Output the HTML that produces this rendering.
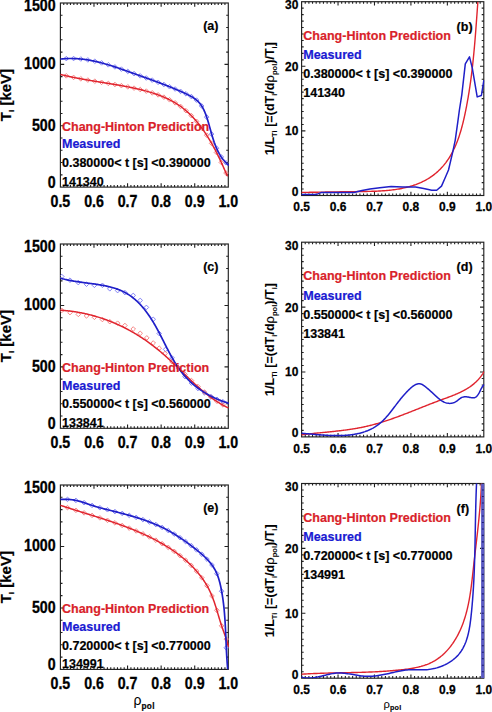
<!DOCTYPE html>
<html><head><meta charset="utf-8"><style>
html,body{margin:0;padding:0;background:#fff;width:492px;height:712px;overflow:hidden;position:relative}
svg text{font-family:"Liberation Sans", sans-serif}
</style></head><body>
<svg width="492" height="712" viewBox="0 0 492 712" style="position:absolute;left:0;top:0" font-family='"Liberation Sans", sans-serif' font-weight="bold">
<rect width="492" height="712" fill="#fff"/>
<rect x="60.4" y="3" width="167.9" height="184.1" fill="none" stroke="#202020" stroke-width="1.15"/>
<path d="M63.76,187.1v-2.1M63.76,3v2.1M67.12,187.1v-2.1M67.12,3v2.1M70.47,187.1v-2.1M70.47,3v2.1M73.83,187.1v-2.1M73.83,3v2.1M77.19,187.1v-2.1M77.19,3v2.1M80.55,187.1v-2.1M80.55,3v2.1M83.91,187.1v-2.1M83.91,3v2.1M87.26,187.1v-2.1M87.26,3v2.1M90.62,187.1v-2.1M90.62,3v2.1M93.98,187.1v-3.8M93.98,3v3.8M97.34,187.1v-2.1M97.34,3v2.1M100.7,187.1v-2.1M100.7,3v2.1M104.05,187.1v-2.1M104.05,3v2.1M107.41,187.1v-2.1M107.41,3v2.1M110.77,187.1v-2.1M110.77,3v2.1M114.13,187.1v-2.1M114.13,3v2.1M117.49,187.1v-2.1M117.49,3v2.1M120.84,187.1v-2.1M120.84,3v2.1M124.2,187.1v-2.1M124.2,3v2.1M127.56,187.1v-3.8M127.56,3v3.8M130.92,187.1v-2.1M130.92,3v2.1M134.28,187.1v-2.1M134.28,3v2.1M137.63,187.1v-2.1M137.63,3v2.1M140.99,187.1v-2.1M140.99,3v2.1M144.35,187.1v-2.1M144.35,3v2.1M147.71,187.1v-2.1M147.71,3v2.1M151.07,187.1v-2.1M151.07,3v2.1M154.42,187.1v-2.1M154.42,3v2.1M157.78,187.1v-2.1M157.78,3v2.1M161.14,187.1v-3.8M161.14,3v3.8M164.5,187.1v-2.1M164.5,3v2.1M167.86,187.1v-2.1M167.86,3v2.1M171.21,187.1v-2.1M171.21,3v2.1M174.57,187.1v-2.1M174.57,3v2.1M177.93,187.1v-2.1M177.93,3v2.1M181.29,187.1v-2.1M181.29,3v2.1M184.65,187.1v-2.1M184.65,3v2.1M188,187.1v-2.1M188,3v2.1M191.36,187.1v-2.1M191.36,3v2.1M194.72,187.1v-3.8M194.72,3v3.8M198.08,187.1v-2.1M198.08,3v2.1M201.44,187.1v-2.1M201.44,3v2.1M204.79,187.1v-2.1M204.79,3v2.1M208.15,187.1v-2.1M208.15,3v2.1M211.51,187.1v-2.1M211.51,3v2.1M214.87,187.1v-2.1M214.87,3v2.1M218.23,187.1v-2.1M218.23,3v2.1M221.58,187.1v-2.1M221.58,3v2.1M224.94,187.1v-2.1M224.94,3v2.1M60.4,174.83h2.1M228.3,174.83h-2.1M60.4,162.55h2.1M228.3,162.55h-2.1M60.4,150.28h2.1M228.3,150.28h-2.1M60.4,138.01h2.1M228.3,138.01h-2.1M60.4,125.73h3.8M228.3,125.73h-3.8M60.4,113.46h2.1M228.3,113.46h-2.1M60.4,101.19h2.1M228.3,101.19h-2.1M60.4,88.91h2.1M228.3,88.91h-2.1M60.4,76.64h2.1M228.3,76.64h-2.1M60.4,64.37h3.8M228.3,64.37h-3.8M60.4,52.09h2.1M228.3,52.09h-2.1M60.4,39.82h2.1M228.3,39.82h-2.1M60.4,27.55h2.1M228.3,27.55h-2.1M60.4,15.27h2.1M228.3,15.27h-2.1" stroke="#202020" stroke-width="1.1" fill="none"/>
<text transform="translate(60.4,206.9) scale(1,1.1)" font-size="14.2" fill="#000" stroke="#000" stroke-width="0.28" text-anchor="middle">0.5</text>
<text transform="translate(93.98,206.9) scale(1,1.1)" font-size="14.2" fill="#000" stroke="#000" stroke-width="0.28" text-anchor="middle">0.6</text>
<text transform="translate(127.56,206.9) scale(1,1.1)" font-size="14.2" fill="#000" stroke="#000" stroke-width="0.28" text-anchor="middle">0.7</text>
<text transform="translate(161.14,206.9) scale(1,1.1)" font-size="14.2" fill="#000" stroke="#000" stroke-width="0.28" text-anchor="middle">0.8</text>
<text transform="translate(194.72,206.9) scale(1,1.1)" font-size="14.2" fill="#000" stroke="#000" stroke-width="0.28" text-anchor="middle">0.9</text>
<text transform="translate(228.3,206.9) scale(1,1.1)" font-size="14.2" fill="#000" stroke="#000" stroke-width="0.28" text-anchor="middle">1.0</text>
<text transform="translate(55.6,11.4) scale(1,1.1)" font-size="14.2" fill="#000" stroke="#000" stroke-width="0.28" text-anchor="end">1500</text>
<text transform="translate(55.6,69.37) scale(1,1.1)" font-size="14.2" fill="#000" stroke="#000" stroke-width="0.28" text-anchor="end">1000</text>
<text transform="translate(55.6,131.13) scale(1,1.1)" font-size="14.2" fill="#000" stroke="#000" stroke-width="0.28" text-anchor="end">500</text>
<text transform="translate(55.6,187.8) scale(1,1.1)" font-size="14.2" fill="#000" stroke="#000" stroke-width="0.28" text-anchor="end">0</text>
<text transform="translate(10.9,95.05) rotate(-90)" font-size="15" stroke="#000" stroke-width="0.2" text-anchor="middle">T<tspan font-size="8" dy="3.2">i</tspan><tspan dy="-3.2"> [keV]</tspan></text>
<text x="203.2" y="29.8" font-size="12.5" fill="#000" stroke="#000" stroke-width="0.2" text-anchor="start">(a)</text>
<rect x="60.4" y="244" width="167.9" height="184.3" fill="none" stroke="#202020" stroke-width="1.15"/>
<path d="M63.76,428.3v-2.1M63.76,244v2.1M67.12,428.3v-2.1M67.12,244v2.1M70.47,428.3v-2.1M70.47,244v2.1M73.83,428.3v-2.1M73.83,244v2.1M77.19,428.3v-2.1M77.19,244v2.1M80.55,428.3v-2.1M80.55,244v2.1M83.91,428.3v-2.1M83.91,244v2.1M87.26,428.3v-2.1M87.26,244v2.1M90.62,428.3v-2.1M90.62,244v2.1M93.98,428.3v-3.8M93.98,244v3.8M97.34,428.3v-2.1M97.34,244v2.1M100.7,428.3v-2.1M100.7,244v2.1M104.05,428.3v-2.1M104.05,244v2.1M107.41,428.3v-2.1M107.41,244v2.1M110.77,428.3v-2.1M110.77,244v2.1M114.13,428.3v-2.1M114.13,244v2.1M117.49,428.3v-2.1M117.49,244v2.1M120.84,428.3v-2.1M120.84,244v2.1M124.2,428.3v-2.1M124.2,244v2.1M127.56,428.3v-3.8M127.56,244v3.8M130.92,428.3v-2.1M130.92,244v2.1M134.28,428.3v-2.1M134.28,244v2.1M137.63,428.3v-2.1M137.63,244v2.1M140.99,428.3v-2.1M140.99,244v2.1M144.35,428.3v-2.1M144.35,244v2.1M147.71,428.3v-2.1M147.71,244v2.1M151.07,428.3v-2.1M151.07,244v2.1M154.42,428.3v-2.1M154.42,244v2.1M157.78,428.3v-2.1M157.78,244v2.1M161.14,428.3v-3.8M161.14,244v3.8M164.5,428.3v-2.1M164.5,244v2.1M167.86,428.3v-2.1M167.86,244v2.1M171.21,428.3v-2.1M171.21,244v2.1M174.57,428.3v-2.1M174.57,244v2.1M177.93,428.3v-2.1M177.93,244v2.1M181.29,428.3v-2.1M181.29,244v2.1M184.65,428.3v-2.1M184.65,244v2.1M188,428.3v-2.1M188,244v2.1M191.36,428.3v-2.1M191.36,244v2.1M194.72,428.3v-3.8M194.72,244v3.8M198.08,428.3v-2.1M198.08,244v2.1M201.44,428.3v-2.1M201.44,244v2.1M204.79,428.3v-2.1M204.79,244v2.1M208.15,428.3v-2.1M208.15,244v2.1M211.51,428.3v-2.1M211.51,244v2.1M214.87,428.3v-2.1M214.87,244v2.1M218.23,428.3v-2.1M218.23,244v2.1M221.58,428.3v-2.1M221.58,244v2.1M224.94,428.3v-2.1M224.94,244v2.1M60.4,416.01h2.1M228.3,416.01h-2.1M60.4,403.73h2.1M228.3,403.73h-2.1M60.4,391.44h2.1M228.3,391.44h-2.1M60.4,379.15h2.1M228.3,379.15h-2.1M60.4,366.87h3.8M228.3,366.87h-3.8M60.4,354.58h2.1M228.3,354.58h-2.1M60.4,342.29h2.1M228.3,342.29h-2.1M60.4,330.01h2.1M228.3,330.01h-2.1M60.4,317.72h2.1M228.3,317.72h-2.1M60.4,305.43h3.8M228.3,305.43h-3.8M60.4,293.15h2.1M228.3,293.15h-2.1M60.4,280.86h2.1M228.3,280.86h-2.1M60.4,268.57h2.1M228.3,268.57h-2.1M60.4,256.29h2.1M228.3,256.29h-2.1" stroke="#202020" stroke-width="1.1" fill="none"/>
<text transform="translate(60.4,448.1) scale(1,1.1)" font-size="14.2" fill="#000" stroke="#000" stroke-width="0.28" text-anchor="middle">0.5</text>
<text transform="translate(93.98,448.1) scale(1,1.1)" font-size="14.2" fill="#000" stroke="#000" stroke-width="0.28" text-anchor="middle">0.6</text>
<text transform="translate(127.56,448.1) scale(1,1.1)" font-size="14.2" fill="#000" stroke="#000" stroke-width="0.28" text-anchor="middle">0.7</text>
<text transform="translate(161.14,448.1) scale(1,1.1)" font-size="14.2" fill="#000" stroke="#000" stroke-width="0.28" text-anchor="middle">0.8</text>
<text transform="translate(194.72,448.1) scale(1,1.1)" font-size="14.2" fill="#000" stroke="#000" stroke-width="0.28" text-anchor="middle">0.9</text>
<text transform="translate(228.3,448.1) scale(1,1.1)" font-size="14.2" fill="#000" stroke="#000" stroke-width="0.28" text-anchor="middle">1.0</text>
<text transform="translate(55.6,252.4) scale(1,1.1)" font-size="14.2" fill="#000" stroke="#000" stroke-width="0.28" text-anchor="end">1500</text>
<text transform="translate(55.6,310.43) scale(1,1.1)" font-size="14.2" fill="#000" stroke="#000" stroke-width="0.28" text-anchor="end">1000</text>
<text transform="translate(55.6,372.27) scale(1,1.1)" font-size="14.2" fill="#000" stroke="#000" stroke-width="0.28" text-anchor="end">500</text>
<text transform="translate(55.6,429) scale(1,1.1)" font-size="14.2" fill="#000" stroke="#000" stroke-width="0.28" text-anchor="end">0</text>
<text transform="translate(10.9,336.15) rotate(-90)" font-size="15" stroke="#000" stroke-width="0.2" text-anchor="middle">T<tspan font-size="8" dy="3.2">i</tspan><tspan dy="-3.2"> [keV]</tspan></text>
<text x="203.2" y="270.8" font-size="12.5" fill="#000" stroke="#000" stroke-width="0.2" text-anchor="start">(c)</text>
<rect x="60.4" y="485" width="167.9" height="184.4" fill="none" stroke="#202020" stroke-width="1.15"/>
<path d="M63.76,669.4v-2.1M63.76,485v2.1M67.12,669.4v-2.1M67.12,485v2.1M70.47,669.4v-2.1M70.47,485v2.1M73.83,669.4v-2.1M73.83,485v2.1M77.19,669.4v-2.1M77.19,485v2.1M80.55,669.4v-2.1M80.55,485v2.1M83.91,669.4v-2.1M83.91,485v2.1M87.26,669.4v-2.1M87.26,485v2.1M90.62,669.4v-2.1M90.62,485v2.1M93.98,669.4v-3.8M93.98,485v3.8M97.34,669.4v-2.1M97.34,485v2.1M100.7,669.4v-2.1M100.7,485v2.1M104.05,669.4v-2.1M104.05,485v2.1M107.41,669.4v-2.1M107.41,485v2.1M110.77,669.4v-2.1M110.77,485v2.1M114.13,669.4v-2.1M114.13,485v2.1M117.49,669.4v-2.1M117.49,485v2.1M120.84,669.4v-2.1M120.84,485v2.1M124.2,669.4v-2.1M124.2,485v2.1M127.56,669.4v-3.8M127.56,485v3.8M130.92,669.4v-2.1M130.92,485v2.1M134.28,669.4v-2.1M134.28,485v2.1M137.63,669.4v-2.1M137.63,485v2.1M140.99,669.4v-2.1M140.99,485v2.1M144.35,669.4v-2.1M144.35,485v2.1M147.71,669.4v-2.1M147.71,485v2.1M151.07,669.4v-2.1M151.07,485v2.1M154.42,669.4v-2.1M154.42,485v2.1M157.78,669.4v-2.1M157.78,485v2.1M161.14,669.4v-3.8M161.14,485v3.8M164.5,669.4v-2.1M164.5,485v2.1M167.86,669.4v-2.1M167.86,485v2.1M171.21,669.4v-2.1M171.21,485v2.1M174.57,669.4v-2.1M174.57,485v2.1M177.93,669.4v-2.1M177.93,485v2.1M181.29,669.4v-2.1M181.29,485v2.1M184.65,669.4v-2.1M184.65,485v2.1M188,669.4v-2.1M188,485v2.1M191.36,669.4v-2.1M191.36,485v2.1M194.72,669.4v-3.8M194.72,485v3.8M198.08,669.4v-2.1M198.08,485v2.1M201.44,669.4v-2.1M201.44,485v2.1M204.79,669.4v-2.1M204.79,485v2.1M208.15,669.4v-2.1M208.15,485v2.1M211.51,669.4v-2.1M211.51,485v2.1M214.87,669.4v-2.1M214.87,485v2.1M218.23,669.4v-2.1M218.23,485v2.1M221.58,669.4v-2.1M221.58,485v2.1M224.94,669.4v-2.1M224.94,485v2.1M60.4,657.11h2.1M228.3,657.11h-2.1M60.4,644.81h2.1M228.3,644.81h-2.1M60.4,632.52h2.1M228.3,632.52h-2.1M60.4,620.23h2.1M228.3,620.23h-2.1M60.4,607.93h3.8M228.3,607.93h-3.8M60.4,595.64h2.1M228.3,595.64h-2.1M60.4,583.35h2.1M228.3,583.35h-2.1M60.4,571.05h2.1M228.3,571.05h-2.1M60.4,558.76h2.1M228.3,558.76h-2.1M60.4,546.47h3.8M228.3,546.47h-3.8M60.4,534.17h2.1M228.3,534.17h-2.1M60.4,521.88h2.1M228.3,521.88h-2.1M60.4,509.59h2.1M228.3,509.59h-2.1M60.4,497.29h2.1M228.3,497.29h-2.1" stroke="#202020" stroke-width="1.1" fill="none"/>
<text transform="translate(60.4,689.2) scale(1,1.1)" font-size="14.2" fill="#000" stroke="#000" stroke-width="0.28" text-anchor="middle">0.5</text>
<text transform="translate(93.98,689.2) scale(1,1.1)" font-size="14.2" fill="#000" stroke="#000" stroke-width="0.28" text-anchor="middle">0.6</text>
<text transform="translate(127.56,689.2) scale(1,1.1)" font-size="14.2" fill="#000" stroke="#000" stroke-width="0.28" text-anchor="middle">0.7</text>
<text transform="translate(161.14,689.2) scale(1,1.1)" font-size="14.2" fill="#000" stroke="#000" stroke-width="0.28" text-anchor="middle">0.8</text>
<text transform="translate(194.72,689.2) scale(1,1.1)" font-size="14.2" fill="#000" stroke="#000" stroke-width="0.28" text-anchor="middle">0.9</text>
<text transform="translate(228.3,689.2) scale(1,1.1)" font-size="14.2" fill="#000" stroke="#000" stroke-width="0.28" text-anchor="middle">1.0</text>
<text transform="translate(55.6,493.4) scale(1,1.1)" font-size="14.2" fill="#000" stroke="#000" stroke-width="0.28" text-anchor="end">1500</text>
<text transform="translate(55.6,551.47) scale(1,1.1)" font-size="14.2" fill="#000" stroke="#000" stroke-width="0.28" text-anchor="end">1000</text>
<text transform="translate(55.6,613.33) scale(1,1.1)" font-size="14.2" fill="#000" stroke="#000" stroke-width="0.28" text-anchor="end">500</text>
<text transform="translate(55.6,670.1) scale(1,1.1)" font-size="14.2" fill="#000" stroke="#000" stroke-width="0.28" text-anchor="end">0</text>
<text transform="translate(10.9,577.2) rotate(-90)" font-size="15" stroke="#000" stroke-width="0.2" text-anchor="middle">T<tspan font-size="8" dy="3.2">i</tspan><tspan dy="-3.2"> [keV]</tspan></text>
<text x="203.2" y="511.8" font-size="12.5" fill="#000" stroke="#000" stroke-width="0.2" text-anchor="start">(e)</text>
<rect x="301.6" y="1.7" width="182.2" height="193.8" fill="none" stroke="#202020" stroke-width="1.15"/>
<path d="M305.24,195.5v-2.1M305.24,1.7v2.1M308.89,195.5v-2.1M308.89,1.7v2.1M312.53,195.5v-2.1M312.53,1.7v2.1M316.18,195.5v-2.1M316.18,1.7v2.1M319.82,195.5v-2.1M319.82,1.7v2.1M323.46,195.5v-2.1M323.46,1.7v2.1M327.11,195.5v-2.1M327.11,1.7v2.1M330.75,195.5v-2.1M330.75,1.7v2.1M334.4,195.5v-2.1M334.4,1.7v2.1M338.04,195.5v-3.8M338.04,1.7v3.8M341.68,195.5v-2.1M341.68,1.7v2.1M345.33,195.5v-2.1M345.33,1.7v2.1M348.97,195.5v-2.1M348.97,1.7v2.1M352.62,195.5v-2.1M352.62,1.7v2.1M356.26,195.5v-2.1M356.26,1.7v2.1M359.9,195.5v-2.1M359.9,1.7v2.1M363.55,195.5v-2.1M363.55,1.7v2.1M367.19,195.5v-2.1M367.19,1.7v2.1M370.84,195.5v-2.1M370.84,1.7v2.1M374.48,195.5v-3.8M374.48,1.7v3.8M378.12,195.5v-2.1M378.12,1.7v2.1M381.77,195.5v-2.1M381.77,1.7v2.1M385.41,195.5v-2.1M385.41,1.7v2.1M389.06,195.5v-2.1M389.06,1.7v2.1M392.7,195.5v-2.1M392.7,1.7v2.1M396.34,195.5v-2.1M396.34,1.7v2.1M399.99,195.5v-2.1M399.99,1.7v2.1M403.63,195.5v-2.1M403.63,1.7v2.1M407.28,195.5v-2.1M407.28,1.7v2.1M410.92,195.5v-3.8M410.92,1.7v3.8M414.56,195.5v-2.1M414.56,1.7v2.1M418.21,195.5v-2.1M418.21,1.7v2.1M421.85,195.5v-2.1M421.85,1.7v2.1M425.5,195.5v-2.1M425.5,1.7v2.1M429.14,195.5v-2.1M429.14,1.7v2.1M432.78,195.5v-2.1M432.78,1.7v2.1M436.43,195.5v-2.1M436.43,1.7v2.1M440.07,195.5v-2.1M440.07,1.7v2.1M443.72,195.5v-2.1M443.72,1.7v2.1M447.36,195.5v-3.8M447.36,1.7v3.8M451,195.5v-2.1M451,1.7v2.1M454.65,195.5v-2.1M454.65,1.7v2.1M458.29,195.5v-2.1M458.29,1.7v2.1M461.94,195.5v-2.1M461.94,1.7v2.1M465.58,195.5v-2.1M465.58,1.7v2.1M469.22,195.5v-2.1M469.22,1.7v2.1M472.87,195.5v-2.1M472.87,1.7v2.1M476.51,195.5v-2.1M476.51,1.7v2.1M480.16,195.5v-2.1M480.16,1.7v2.1M301.6,189.04h2.1M483.8,189.04h-2.1M301.6,182.58h2.1M483.8,182.58h-2.1M301.6,176.12h2.1M483.8,176.12h-2.1M301.6,169.66h2.1M483.8,169.66h-2.1M301.6,163.2h2.1M483.8,163.2h-2.1M301.6,156.74h2.1M483.8,156.74h-2.1M301.6,150.28h2.1M483.8,150.28h-2.1M301.6,143.82h2.1M483.8,143.82h-2.1M301.6,137.36h2.1M483.8,137.36h-2.1M301.6,130.9h3.8M483.8,130.9h-3.8M301.6,124.44h2.1M483.8,124.44h-2.1M301.6,117.98h2.1M483.8,117.98h-2.1M301.6,111.52h2.1M483.8,111.52h-2.1M301.6,105.06h2.1M483.8,105.06h-2.1M301.6,98.6h2.1M483.8,98.6h-2.1M301.6,92.14h2.1M483.8,92.14h-2.1M301.6,85.68h2.1M483.8,85.68h-2.1M301.6,79.22h2.1M483.8,79.22h-2.1M301.6,72.76h2.1M483.8,72.76h-2.1M301.6,66.3h3.8M483.8,66.3h-3.8M301.6,59.84h2.1M483.8,59.84h-2.1M301.6,53.38h2.1M483.8,53.38h-2.1M301.6,46.92h2.1M483.8,46.92h-2.1M301.6,40.46h2.1M483.8,40.46h-2.1M301.6,34h2.1M483.8,34h-2.1M301.6,27.54h2.1M483.8,27.54h-2.1M301.6,21.08h2.1M483.8,21.08h-2.1M301.6,14.62h2.1M483.8,14.62h-2.1M301.6,8.16h2.1M483.8,8.16h-2.1" stroke="#202020" stroke-width="1.1" fill="none"/>
<text transform="translate(301.6,211.3) scale(1,1.04)" font-size="12" fill="#000" stroke="#000" stroke-width="0.25" text-anchor="middle">0.5</text>
<text transform="translate(338.04,211.3) scale(1,1.04)" font-size="12" fill="#000" stroke="#000" stroke-width="0.25" text-anchor="middle">0.6</text>
<text transform="translate(374.48,211.3) scale(1,1.04)" font-size="12" fill="#000" stroke="#000" stroke-width="0.25" text-anchor="middle">0.7</text>
<text transform="translate(410.92,211.3) scale(1,1.04)" font-size="12" fill="#000" stroke="#000" stroke-width="0.25" text-anchor="middle">0.8</text>
<text transform="translate(447.36,211.3) scale(1,1.04)" font-size="12" fill="#000" stroke="#000" stroke-width="0.25" text-anchor="middle">0.9</text>
<text transform="translate(483.8,211.3) scale(1,1.04)" font-size="12" fill="#000" stroke="#000" stroke-width="0.25" text-anchor="middle">1.0</text>
<text transform="translate(298.4,9.2) scale(1,1.04)" font-size="12" fill="#000" stroke="#000" stroke-width="0.25" text-anchor="end">30</text>
<text transform="translate(298.4,70.7) scale(1,1.04)" font-size="12" fill="#000" stroke="#000" stroke-width="0.25" text-anchor="end">20</text>
<text transform="translate(298.4,135.3) scale(1,1.04)" font-size="12" fill="#000" stroke="#000" stroke-width="0.25" text-anchor="end">10</text>
<text transform="translate(298.4,195.9) scale(1,1.04)" font-size="12" fill="#000" stroke="#000" stroke-width="0.25" text-anchor="end">0</text>
<text transform="translate(273.8,98.6) rotate(-90)" font-size="12.6" stroke="#000" stroke-width="0.05" text-anchor="middle">1/L<tspan font-size="7.5" dy="3">Ti</tspan><tspan dy="-3"> [=(dT</tspan><tspan font-size="7.5" dy="3">i</tspan><tspan dy="-3">/d</tspan><tspan font-weight="normal" stroke-width="0.1" font-size="13">&#961;</tspan><tspan font-size="7.5" dy="3">pol</tspan><tspan dy="-3">)/T</tspan><tspan font-size="7.5" dy="3">i</tspan><tspan dy="-3">]</tspan></text>
<text x="456.6" y="30.7" font-size="12.5" fill="#000" stroke="#000" stroke-width="0.2" text-anchor="start">(b)</text>
<rect x="301.6" y="242.2" width="182.2" height="194.7" fill="none" stroke="#202020" stroke-width="1.15"/>
<path d="M305.24,436.9v-2.1M305.24,242.2v2.1M308.89,436.9v-2.1M308.89,242.2v2.1M312.53,436.9v-2.1M312.53,242.2v2.1M316.18,436.9v-2.1M316.18,242.2v2.1M319.82,436.9v-2.1M319.82,242.2v2.1M323.46,436.9v-2.1M323.46,242.2v2.1M327.11,436.9v-2.1M327.11,242.2v2.1M330.75,436.9v-2.1M330.75,242.2v2.1M334.4,436.9v-2.1M334.4,242.2v2.1M338.04,436.9v-3.8M338.04,242.2v3.8M341.68,436.9v-2.1M341.68,242.2v2.1M345.33,436.9v-2.1M345.33,242.2v2.1M348.97,436.9v-2.1M348.97,242.2v2.1M352.62,436.9v-2.1M352.62,242.2v2.1M356.26,436.9v-2.1M356.26,242.2v2.1M359.9,436.9v-2.1M359.9,242.2v2.1M363.55,436.9v-2.1M363.55,242.2v2.1M367.19,436.9v-2.1M367.19,242.2v2.1M370.84,436.9v-2.1M370.84,242.2v2.1M374.48,436.9v-3.8M374.48,242.2v3.8M378.12,436.9v-2.1M378.12,242.2v2.1M381.77,436.9v-2.1M381.77,242.2v2.1M385.41,436.9v-2.1M385.41,242.2v2.1M389.06,436.9v-2.1M389.06,242.2v2.1M392.7,436.9v-2.1M392.7,242.2v2.1M396.34,436.9v-2.1M396.34,242.2v2.1M399.99,436.9v-2.1M399.99,242.2v2.1M403.63,436.9v-2.1M403.63,242.2v2.1M407.28,436.9v-2.1M407.28,242.2v2.1M410.92,436.9v-3.8M410.92,242.2v3.8M414.56,436.9v-2.1M414.56,242.2v2.1M418.21,436.9v-2.1M418.21,242.2v2.1M421.85,436.9v-2.1M421.85,242.2v2.1M425.5,436.9v-2.1M425.5,242.2v2.1M429.14,436.9v-2.1M429.14,242.2v2.1M432.78,436.9v-2.1M432.78,242.2v2.1M436.43,436.9v-2.1M436.43,242.2v2.1M440.07,436.9v-2.1M440.07,242.2v2.1M443.72,436.9v-2.1M443.72,242.2v2.1M447.36,436.9v-3.8M447.36,242.2v3.8M451,436.9v-2.1M451,242.2v2.1M454.65,436.9v-2.1M454.65,242.2v2.1M458.29,436.9v-2.1M458.29,242.2v2.1M461.94,436.9v-2.1M461.94,242.2v2.1M465.58,436.9v-2.1M465.58,242.2v2.1M469.22,436.9v-2.1M469.22,242.2v2.1M472.87,436.9v-2.1M472.87,242.2v2.1M476.51,436.9v-2.1M476.51,242.2v2.1M480.16,436.9v-2.1M480.16,242.2v2.1M301.6,430.41h2.1M483.8,430.41h-2.1M301.6,423.92h2.1M483.8,423.92h-2.1M301.6,417.43h2.1M483.8,417.43h-2.1M301.6,410.94h2.1M483.8,410.94h-2.1M301.6,404.45h2.1M483.8,404.45h-2.1M301.6,397.96h2.1M483.8,397.96h-2.1M301.6,391.47h2.1M483.8,391.47h-2.1M301.6,384.98h2.1M483.8,384.98h-2.1M301.6,378.49h2.1M483.8,378.49h-2.1M301.6,372h3.8M483.8,372h-3.8M301.6,365.51h2.1M483.8,365.51h-2.1M301.6,359.02h2.1M483.8,359.02h-2.1M301.6,352.53h2.1M483.8,352.53h-2.1M301.6,346.04h2.1M483.8,346.04h-2.1M301.6,339.55h2.1M483.8,339.55h-2.1M301.6,333.06h2.1M483.8,333.06h-2.1M301.6,326.57h2.1M483.8,326.57h-2.1M301.6,320.08h2.1M483.8,320.08h-2.1M301.6,313.59h2.1M483.8,313.59h-2.1M301.6,307.1h3.8M483.8,307.1h-3.8M301.6,300.61h2.1M483.8,300.61h-2.1M301.6,294.12h2.1M483.8,294.12h-2.1M301.6,287.63h2.1M483.8,287.63h-2.1M301.6,281.14h2.1M483.8,281.14h-2.1M301.6,274.65h2.1M483.8,274.65h-2.1M301.6,268.16h2.1M483.8,268.16h-2.1M301.6,261.67h2.1M483.8,261.67h-2.1M301.6,255.18h2.1M483.8,255.18h-2.1M301.6,248.69h2.1M483.8,248.69h-2.1" stroke="#202020" stroke-width="1.1" fill="none"/>
<text transform="translate(301.6,452.7) scale(1,1.04)" font-size="12" fill="#000" stroke="#000" stroke-width="0.25" text-anchor="middle">0.5</text>
<text transform="translate(338.04,452.7) scale(1,1.04)" font-size="12" fill="#000" stroke="#000" stroke-width="0.25" text-anchor="middle">0.6</text>
<text transform="translate(374.48,452.7) scale(1,1.04)" font-size="12" fill="#000" stroke="#000" stroke-width="0.25" text-anchor="middle">0.7</text>
<text transform="translate(410.92,452.7) scale(1,1.04)" font-size="12" fill="#000" stroke="#000" stroke-width="0.25" text-anchor="middle">0.8</text>
<text transform="translate(447.36,452.7) scale(1,1.04)" font-size="12" fill="#000" stroke="#000" stroke-width="0.25" text-anchor="middle">0.9</text>
<text transform="translate(483.8,452.7) scale(1,1.04)" font-size="12" fill="#000" stroke="#000" stroke-width="0.25" text-anchor="middle">1.0</text>
<text transform="translate(298.4,249.7) scale(1,1.04)" font-size="12" fill="#000" stroke="#000" stroke-width="0.25" text-anchor="end">30</text>
<text transform="translate(298.4,311.5) scale(1,1.04)" font-size="12" fill="#000" stroke="#000" stroke-width="0.25" text-anchor="end">20</text>
<text transform="translate(298.4,376.4) scale(1,1.04)" font-size="12" fill="#000" stroke="#000" stroke-width="0.25" text-anchor="end">10</text>
<text transform="translate(298.4,437.3) scale(1,1.04)" font-size="12" fill="#000" stroke="#000" stroke-width="0.25" text-anchor="end">0</text>
<text transform="translate(273.8,339.55) rotate(-90)" font-size="12.6" stroke="#000" stroke-width="0.05" text-anchor="middle">1/L<tspan font-size="7.5" dy="3">Ti</tspan><tspan dy="-3"> [=(dT</tspan><tspan font-size="7.5" dy="3">i</tspan><tspan dy="-3">/d</tspan><tspan font-weight="normal" stroke-width="0.1" font-size="13">&#961;</tspan><tspan font-size="7.5" dy="3">pol</tspan><tspan dy="-3">)/T</tspan><tspan font-size="7.5" dy="3">i</tspan><tspan dy="-3">]</tspan></text>
<text x="456.6" y="271.2" font-size="12.5" fill="#000" stroke="#000" stroke-width="0.2" text-anchor="start">(d)</text>
<rect x="301.6" y="483.5" width="182.2" height="194.7" fill="none" stroke="#202020" stroke-width="1.15"/>
<path d="M305.24,678.2v-2.1M305.24,483.5v2.1M308.89,678.2v-2.1M308.89,483.5v2.1M312.53,678.2v-2.1M312.53,483.5v2.1M316.18,678.2v-2.1M316.18,483.5v2.1M319.82,678.2v-2.1M319.82,483.5v2.1M323.46,678.2v-2.1M323.46,483.5v2.1M327.11,678.2v-2.1M327.11,483.5v2.1M330.75,678.2v-2.1M330.75,483.5v2.1M334.4,678.2v-2.1M334.4,483.5v2.1M338.04,678.2v-3.8M338.04,483.5v3.8M341.68,678.2v-2.1M341.68,483.5v2.1M345.33,678.2v-2.1M345.33,483.5v2.1M348.97,678.2v-2.1M348.97,483.5v2.1M352.62,678.2v-2.1M352.62,483.5v2.1M356.26,678.2v-2.1M356.26,483.5v2.1M359.9,678.2v-2.1M359.9,483.5v2.1M363.55,678.2v-2.1M363.55,483.5v2.1M367.19,678.2v-2.1M367.19,483.5v2.1M370.84,678.2v-2.1M370.84,483.5v2.1M374.48,678.2v-3.8M374.48,483.5v3.8M378.12,678.2v-2.1M378.12,483.5v2.1M381.77,678.2v-2.1M381.77,483.5v2.1M385.41,678.2v-2.1M385.41,483.5v2.1M389.06,678.2v-2.1M389.06,483.5v2.1M392.7,678.2v-2.1M392.7,483.5v2.1M396.34,678.2v-2.1M396.34,483.5v2.1M399.99,678.2v-2.1M399.99,483.5v2.1M403.63,678.2v-2.1M403.63,483.5v2.1M407.28,678.2v-2.1M407.28,483.5v2.1M410.92,678.2v-3.8M410.92,483.5v3.8M414.56,678.2v-2.1M414.56,483.5v2.1M418.21,678.2v-2.1M418.21,483.5v2.1M421.85,678.2v-2.1M421.85,483.5v2.1M425.5,678.2v-2.1M425.5,483.5v2.1M429.14,678.2v-2.1M429.14,483.5v2.1M432.78,678.2v-2.1M432.78,483.5v2.1M436.43,678.2v-2.1M436.43,483.5v2.1M440.07,678.2v-2.1M440.07,483.5v2.1M443.72,678.2v-2.1M443.72,483.5v2.1M447.36,678.2v-3.8M447.36,483.5v3.8M451,678.2v-2.1M451,483.5v2.1M454.65,678.2v-2.1M454.65,483.5v2.1M458.29,678.2v-2.1M458.29,483.5v2.1M461.94,678.2v-2.1M461.94,483.5v2.1M465.58,678.2v-2.1M465.58,483.5v2.1M469.22,678.2v-2.1M469.22,483.5v2.1M472.87,678.2v-2.1M472.87,483.5v2.1M476.51,678.2v-2.1M476.51,483.5v2.1M480.16,678.2v-2.1M480.16,483.5v2.1M301.6,671.71h2.1M483.8,671.71h-2.1M301.6,665.22h2.1M483.8,665.22h-2.1M301.6,658.73h2.1M483.8,658.73h-2.1M301.6,652.24h2.1M483.8,652.24h-2.1M301.6,645.75h2.1M483.8,645.75h-2.1M301.6,639.26h2.1M483.8,639.26h-2.1M301.6,632.77h2.1M483.8,632.77h-2.1M301.6,626.28h2.1M483.8,626.28h-2.1M301.6,619.79h2.1M483.8,619.79h-2.1M301.6,613.3h3.8M483.8,613.3h-3.8M301.6,606.81h2.1M483.8,606.81h-2.1M301.6,600.32h2.1M483.8,600.32h-2.1M301.6,593.83h2.1M483.8,593.83h-2.1M301.6,587.34h2.1M483.8,587.34h-2.1M301.6,580.85h2.1M483.8,580.85h-2.1M301.6,574.36h2.1M483.8,574.36h-2.1M301.6,567.87h2.1M483.8,567.87h-2.1M301.6,561.38h2.1M483.8,561.38h-2.1M301.6,554.89h2.1M483.8,554.89h-2.1M301.6,548.4h3.8M483.8,548.4h-3.8M301.6,541.91h2.1M483.8,541.91h-2.1M301.6,535.42h2.1M483.8,535.42h-2.1M301.6,528.93h2.1M483.8,528.93h-2.1M301.6,522.44h2.1M483.8,522.44h-2.1M301.6,515.95h2.1M483.8,515.95h-2.1M301.6,509.46h2.1M483.8,509.46h-2.1M301.6,502.97h2.1M483.8,502.97h-2.1M301.6,496.48h2.1M483.8,496.48h-2.1M301.6,489.99h2.1M483.8,489.99h-2.1" stroke="#202020" stroke-width="1.1" fill="none"/>
<text transform="translate(301.6,694) scale(1,1.04)" font-size="12" fill="#000" stroke="#000" stroke-width="0.25" text-anchor="middle">0.5</text>
<text transform="translate(338.04,694) scale(1,1.04)" font-size="12" fill="#000" stroke="#000" stroke-width="0.25" text-anchor="middle">0.6</text>
<text transform="translate(374.48,694) scale(1,1.04)" font-size="12" fill="#000" stroke="#000" stroke-width="0.25" text-anchor="middle">0.7</text>
<text transform="translate(410.92,694) scale(1,1.04)" font-size="12" fill="#000" stroke="#000" stroke-width="0.25" text-anchor="middle">0.8</text>
<text transform="translate(447.36,694) scale(1,1.04)" font-size="12" fill="#000" stroke="#000" stroke-width="0.25" text-anchor="middle">0.9</text>
<text transform="translate(483.8,694) scale(1,1.04)" font-size="12" fill="#000" stroke="#000" stroke-width="0.25" text-anchor="middle">1.0</text>
<text transform="translate(298.4,491) scale(1,1.04)" font-size="12" fill="#000" stroke="#000" stroke-width="0.25" text-anchor="end">30</text>
<text transform="translate(298.4,552.8) scale(1,1.04)" font-size="12" fill="#000" stroke="#000" stroke-width="0.25" text-anchor="end">20</text>
<text transform="translate(298.4,617.7) scale(1,1.04)" font-size="12" fill="#000" stroke="#000" stroke-width="0.25" text-anchor="end">10</text>
<text transform="translate(298.4,678.6) scale(1,1.04)" font-size="12" fill="#000" stroke="#000" stroke-width="0.25" text-anchor="end">0</text>
<text transform="translate(273.8,580.85) rotate(-90)" font-size="12.6" stroke="#000" stroke-width="0.05" text-anchor="middle">1/L<tspan font-size="7.5" dy="3">Ti</tspan><tspan dy="-3"> [=(dT</tspan><tspan font-size="7.5" dy="3">i</tspan><tspan dy="-3">/d</tspan><tspan font-weight="normal" stroke-width="0.1" font-size="13">&#961;</tspan><tspan font-size="7.5" dy="3">pol</tspan><tspan dy="-3">)/T</tspan><tspan font-size="7.5" dy="3">i</tspan><tspan dy="-3">]</tspan></text>
<text x="456.6" y="512.5" font-size="12.5" fill="#000" stroke="#000" stroke-width="0.2" text-anchor="start">(f)</text>
<defs>
<clipPath id="cl0"><rect x="60.4" y="3" width="168.5" height="184.1"/></clipPath>
<clipPath id="cl1"><rect x="60.4" y="244" width="168.5" height="184.3"/></clipPath>
<clipPath id="cl2"><rect x="60.4" y="485" width="168.5" height="184.4"/></clipPath>
<clipPath id="cr0"><rect x="301.6" y="1.7" width="182.8" height="193.8"/></clipPath>
<clipPath id="cr1"><rect x="301.6" y="242.2" width="182.8" height="194.7"/></clipPath>
<clipPath id="cr2"><rect x="301.6" y="483.5" width="182.8" height="194.7"/></clipPath>
</defs>
<g clip-path="url(#cl0)">
<path d="M64,58.6l2.3,-2.3l2.3,2.3l-2.3,2.3zM71.3,58.53l2.3,-2.3l2.3,2.3l-2.3,2.3zM78.48,58.99l2.3,-2.3l2.3,2.3l-2.3,2.3zM85.54,59.92l2.3,-2.3l2.3,2.3l-2.3,2.3zM92.48,61.24l2.3,-2.3l2.3,2.3l-2.3,2.3zM99.3,62.9l2.3,-2.3l2.3,2.3l-2.3,2.3zM106.01,64.81l2.3,-2.3l2.3,2.3l-2.3,2.3zM112.61,66.91l2.3,-2.3l2.3,2.3l-2.3,2.3zM119.1,69.12l2.3,-2.3l2.3,2.3l-2.3,2.3zM125.48,71.38l2.3,-2.3l2.3,2.3l-2.3,2.3zM131.75,73.62l2.3,-2.3l2.3,2.3l-2.3,2.3zM137.92,75.82l2.3,-2.3l2.3,2.3l-2.3,2.3zM143.99,77.99l2.3,-2.3l2.3,2.3l-2.3,2.3zM149.95,80.15l2.3,-2.3l2.3,2.3l-2.3,2.3zM155.82,82.31l2.3,-2.3l2.3,2.3l-2.3,2.3zM161.58,84.5l2.3,-2.3l2.3,2.3l-2.3,2.3zM167.25,86.73l2.3,-2.3l2.3,2.3l-2.3,2.3zM172.83,89.01l2.3,-2.3l2.3,2.3l-2.3,2.3zM178.31,91.36l2.3,-2.3l2.3,2.3l-2.3,2.3zM183.7,93.8l2.3,-2.3l2.3,2.3l-2.3,2.3zM189,96.53l2.3,-2.3l2.3,2.3l-2.3,2.3zM194.22,100.1l2.3,-2.3l2.3,2.3l-2.3,2.3zM199.34,105.94l2.3,-2.3l2.3,2.3l-2.3,2.3zM204.38,117.07l2.3,-2.3l2.3,2.3l-2.3,2.3zM209.34,134.09l2.3,-2.3l2.3,2.3l-2.3,2.3zM214.21,148.17l2.3,-2.3l2.3,2.3l-2.3,2.3zM219,156.95l2.3,-2.3l2.3,2.3l-2.3,2.3zM223.72,162.78l2.3,-2.3l2.3,2.3l-2.3,2.3z" stroke="#7878f4" stroke-width="0.9" fill="none"/>
<path d="M64,75.85l2.3,-2.3l2.3,2.3l-2.3,2.3zM71.3,77.42l2.3,-2.3l2.3,2.3l-2.3,2.3zM78.48,78.8l2.3,-2.3l2.3,2.3l-2.3,2.3zM85.54,80.05l2.3,-2.3l2.3,2.3l-2.3,2.3zM92.48,81.21l2.3,-2.3l2.3,2.3l-2.3,2.3zM99.3,82.32l2.3,-2.3l2.3,2.3l-2.3,2.3zM106.01,83.41l2.3,-2.3l2.3,2.3l-2.3,2.3zM112.61,84.51l2.3,-2.3l2.3,2.3l-2.3,2.3zM119.1,85.64l2.3,-2.3l2.3,2.3l-2.3,2.3zM125.48,86.84l2.3,-2.3l2.3,2.3l-2.3,2.3zM131.75,88.13l2.3,-2.3l2.3,2.3l-2.3,2.3zM137.92,89.53l2.3,-2.3l2.3,2.3l-2.3,2.3zM143.99,91.1l2.3,-2.3l2.3,2.3l-2.3,2.3zM149.95,92.86l2.3,-2.3l2.3,2.3l-2.3,2.3zM155.82,94.86l2.3,-2.3l2.3,2.3l-2.3,2.3zM161.58,97.15l2.3,-2.3l2.3,2.3l-2.3,2.3zM167.25,99.78l2.3,-2.3l2.3,2.3l-2.3,2.3zM172.83,102.84l2.3,-2.3l2.3,2.3l-2.3,2.3zM178.31,106.44l2.3,-2.3l2.3,2.3l-2.3,2.3zM183.7,110.68l2.3,-2.3l2.3,2.3l-2.3,2.3zM189,115.63l2.3,-2.3l2.3,2.3l-2.3,2.3zM194.22,121.33l2.3,-2.3l2.3,2.3l-2.3,2.3zM199.34,127.83l2.3,-2.3l2.3,2.3l-2.3,2.3zM204.38,135.17l2.3,-2.3l2.3,2.3l-2.3,2.3zM209.34,143.39l2.3,-2.3l2.3,2.3l-2.3,2.3zM214.21,152.49l2.3,-2.3l2.3,2.3l-2.3,2.3zM219,162.42l2.3,-2.3l2.3,2.3l-2.3,2.3zM223.72,173.03l2.3,-2.3l2.3,2.3l-2.3,2.3z" stroke="#f47a7a" stroke-width="0.9" fill="none"/>
<path d="M60.76,74.51 L61.59,74.72 L62.42,74.92 L63.25,75.13 L64.08,75.33 L64.91,75.52 L65.74,75.72 L66.58,75.91 L67.41,76.1 L68.25,76.29 L69.09,76.47 L69.93,76.65 L70.77,76.83 L71.61,77.01 L72.45,77.18 L73.3,77.36 L74.14,77.53 L74.99,77.7 L75.83,77.87 L76.68,78.03 L77.53,78.19 L78.38,78.36 L79.23,78.52 L80.08,78.68 L80.94,78.83 L81.79,78.99 L82.65,79.14 L83.5,79.3 L84.36,79.45 L85.21,79.6 L86.07,79.75 L86.93,79.9 L87.79,80.05 L88.65,80.19 L89.51,80.34 L90.38,80.49 L91.24,80.63 L92.1,80.77 L92.97,80.92 L93.83,81.06 L94.7,81.2 L95.57,81.34 L96.43,81.48 L97.3,81.63 L98.17,81.77 L99.04,81.91 L99.91,82.05 L100.78,82.19 L101.65,82.33 L102.52,82.47 L103.39,82.61 L104.27,82.75 L105.14,82.89 L106.01,83.03 L106.89,83.18 L107.76,83.32 L108.64,83.46 L109.52,83.61 L110.39,83.75 L111.27,83.9 L112.15,84.04 L113.02,84.19 L113.9,84.34 L114.78,84.49 L115.66,84.64 L116.54,84.79 L117.42,84.94 L118.3,85.09 L119.18,85.25 L120.06,85.4 L120.94,85.56 L121.82,85.72 L122.7,85.88 L123.58,86.04 L124.46,86.21 L125.34,86.37 L126.23,86.54 L127.11,86.71 L127.99,86.88 L128.87,87.06 L129.75,87.23 L130.64,87.41 L131.52,87.59 L132.4,87.77 L133.28,87.96 L134.16,88.15 L135.03,88.34 L135.91,88.53 L136.79,88.73 L137.66,88.93 L138.54,89.13 L139.41,89.34 L140.28,89.55 L141.15,89.76 L142.02,89.98 L142.89,90.2 L143.76,90.42 L144.62,90.65 L145.48,90.88 L146.34,91.12 L147.2,91.36 L148.06,91.6 L148.91,91.85 L149.77,92.1 L150.62,92.35 L151.46,92.62 L152.31,92.88 L153.15,93.15 L153.99,93.43 L154.83,93.7 L155.66,93.99 L156.49,94.28 L157.32,94.57 L158.15,94.87 L158.97,95.18 L159.79,95.49 L160.6,95.8 L161.41,96.13 L162.22,96.45 L163.03,96.79 L163.83,97.12 L164.62,97.47 L165.42,97.82 L166.21,98.18 L166.99,98.54 L167.77,98.91 L168.55,99.28 L169.32,99.67 L170.09,100.05 L170.85,100.45 L171.61,100.85 L172.36,101.26 L173.11,101.67 L173.86,102.1 L174.6,102.53 L175.33,102.96 L176.06,103.41 L176.78,103.86 L177.5,104.32 L178.22,104.79 L178.92,105.26 L179.63,105.74 L180.32,106.23 L181.01,106.73 L181.7,107.23 L182.38,107.75 L183.05,108.27 L183.72,108.79 L184.39,109.33 L185.04,109.87 L185.7,110.42 L186.34,110.97 L186.99,111.54 L187.62,112.11 L188.25,112.68 L188.88,113.26 L189.5,113.85 L190.12,114.45 L190.73,115.05 L191.34,115.66 L191.94,116.27 L192.53,116.89 L193.13,117.52 L193.71,118.15 L194.29,118.79 L194.87,119.43 L195.44,120.08 L196.01,120.73 L196.57,121.39 L197.13,122.06 L197.69,122.73 L198.24,123.4 L198.78,124.08 L199.32,124.77 L199.86,125.46 L200.39,126.15 L200.92,126.85 L201.44,127.55 L201.96,128.26 L202.48,128.97 L202.99,129.69 L203.49,130.41 L203.99,131.13 L204.49,131.86 L204.99,132.59 L205.48,133.32 L205.96,134.06 L206.45,134.8 L206.93,135.55 L207.4,136.3 L207.87,137.05 L208.34,137.81 L208.8,138.56 L209.26,139.32 L209.72,140.09 L210.17,140.85 L210.62,141.62 L211.07,142.4 L211.51,143.17 L211.95,143.95 L212.39,144.72 L212.82,145.5 L213.25,146.29 L213.68,147.07 L214.1,147.86 L214.52,148.65 L214.94,149.44 L215.35,150.23 L215.76,151.02 L216.17,151.82 L216.57,152.61 L216.97,153.41 L217.37,154.21 L217.77,155 L218.16,155.8 L218.55,156.6 L218.94,157.41 L219.32,158.21 L219.71,159.01 L220.09,159.81 L220.46,160.61 L220.84,161.42 L221.21,162.22 L221.58,163.02 L221.95,163.83 L222.31,164.63 L222.68,165.43 L223.04,166.23 L223.39,167.04 L223.75,167.84 L224.1,168.64 L224.46,169.44 L224.81,170.24 L225.15,171.03 L225.5,171.83 L225.84,172.63 L226.18,173.42 L226.52,174.21 L226.86,175.01 L227.2,175.8" stroke="#e0242e" stroke-width="1.5" fill="none" stroke-linejoin="round" stroke-linecap="round"/>
<path d="M60.18,59.09 L61.14,58.98 L62.09,58.89 L63.05,58.81 L64,58.73 L64.95,58.67 L65.89,58.62 L66.84,58.57 L67.78,58.54 L68.71,58.52 L69.65,58.5 L70.58,58.49 L71.51,58.5 L72.44,58.51 L73.36,58.53 L74.29,58.55 L75.21,58.59 L76.12,58.64 L77.04,58.69 L77.95,58.75 L78.86,58.82 L79.77,58.9 L80.68,58.98 L81.58,59.08 L82.49,59.18 L83.39,59.28 L84.29,59.4 L85.18,59.52 L86.08,59.65 L86.97,59.78 L87.86,59.92 L88.75,60.07 L89.64,60.23 L90.53,60.39 L91.41,60.55 L92.3,60.73 L93.18,60.91 L94.06,61.09 L94.94,61.28 L95.82,61.47 L96.69,61.68 L97.57,61.88 L98.44,62.09 L99.31,62.31 L100.19,62.53 L101.06,62.75 L101.93,62.98 L102.79,63.22 L103.66,63.46 L104.53,63.7 L105.39,63.95 L106.26,64.2 L107.12,64.45 L107.98,64.71 L108.85,64.97 L109.71,65.24 L110.57,65.51 L111.43,65.78 L112.29,66.05 L113.15,66.33 L114.01,66.61 L114.86,66.89 L115.72,67.18 L116.58,67.46 L117.44,67.75 L118.29,68.05 L119.15,68.34 L120.01,68.64 L120.86,68.93 L121.72,69.23 L122.58,69.53 L123.43,69.83 L124.29,70.14 L125.14,70.44 L126,70.74 L126.86,71.05 L127.71,71.36 L128.57,71.66 L129.43,71.97 L130.29,72.28 L131.14,72.58 L132,72.89 L132.86,73.2 L133.72,73.51 L134.58,73.81 L135.44,74.12 L136.3,74.43 L137.16,74.73 L138.02,75.04 L138.88,75.35 L139.75,75.65 L140.61,75.96 L141.47,76.27 L142.33,76.58 L143.19,76.88 L144.06,77.19 L144.92,77.5 L145.78,77.81 L146.64,78.12 L147.5,78.43 L148.36,78.74 L149.23,79.05 L150.09,79.36 L150.95,79.67 L151.81,79.99 L152.67,80.3 L153.53,80.61 L154.39,80.93 L155.25,81.25 L156.1,81.56 L156.96,81.88 L157.82,82.2 L158.68,82.52 L159.53,82.84 L160.39,83.16 L161.24,83.49 L162.09,83.81 L162.95,84.14 L163.8,84.47 L164.65,84.8 L165.5,85.13 L166.35,85.46 L167.2,85.79 L168.05,86.13 L168.89,86.46 L169.74,86.8 L170.58,87.14 L171.42,87.48 L172.26,87.82 L173.11,88.17 L173.94,88.51 L174.78,88.86 L175.62,89.21 L176.45,89.56 L177.29,89.92 L178.12,90.27 L178.95,90.63 L179.78,90.99 L180.6,91.35 L181.43,91.72 L182.25,92.09 L183.08,92.46 L183.9,92.83 L184.72,93.2 L185.53,93.58 L186.34,93.96 L187.15,94.35 L187.95,94.74 L188.75,95.14 L189.54,95.55 L190.32,95.97 L191.09,96.4 L191.85,96.84 L192.59,97.29 L193.33,97.76 L194.05,98.24 L194.76,98.74 L195.45,99.25 L196.13,99.78 L196.79,100.33 L197.43,100.9 L198.05,101.49 L198.66,102.1 L199.24,102.73 L199.8,103.39 L200.34,104.07 L200.85,104.77 L201.35,105.49 L201.83,106.23 L202.3,106.99 L202.74,107.77 L203.17,108.56 L203.58,109.37 L203.98,110.19 L204.36,111.03 L204.73,111.88 L205.09,112.73 L205.43,113.6 L205.77,114.48 L206.09,115.36 L206.41,116.25 L206.71,117.15 L207.01,118.05 L207.3,118.96 L207.58,119.87 L207.86,120.78 L208.13,121.69 L208.4,122.6 L208.66,123.51 L208.92,124.42 L209.18,125.33 L209.44,126.23 L209.69,127.14 L209.94,128.04 L210.19,128.95 L210.44,129.85 L210.69,130.75 L210.94,131.64 L211.2,132.54 L211.45,133.43 L211.71,134.32 L211.96,135.21 L212.22,136.09 L212.49,136.97 L212.76,137.85 L213.03,138.72 L213.31,139.59 L213.59,140.46 L213.88,141.32 L214.17,142.18 L214.48,143.03 L214.79,143.88 L215.1,144.72 L215.43,145.56 L215.76,146.4 L216.11,147.22 L216.46,148.05 L216.82,148.86 L217.2,149.68 L217.58,150.48 L217.98,151.28 L218.39,152.07 L218.81,152.86 L219.24,153.64 L219.69,154.41 L220.15,155.18 L220.63,155.94 L221.12,156.69 L221.63,157.43 L222.15,158.17 L222.69,158.9 L223.25,159.62 L223.83,160.33 L224.42,161.03 L225.03,161.72 L225.66,162.41 L226.31,163.09 L226.98,163.75 L227.67,164.41 L228.38,165.06" stroke="#1f1fc8" stroke-width="1.7" fill="none" stroke-linejoin="round" stroke-linecap="round"/>
</g>
<g clip-path="url(#cl1)">
<path d="M59.5,276.5l2.3,-2.3l2.3,2.3l-2.3,2.3zM67.7,280.2l2.3,-2.3l2.3,2.3l-2.3,2.3zM76,282.6l2.3,-2.3l2.3,2.3l-2.3,2.3zM84.2,284.2l2.3,-2.3l2.3,2.3l-2.3,2.3zM92.1,285.3l2.3,-2.3l2.3,2.3l-2.3,2.3zM100.1,285.3l2.3,-2.3l2.3,2.3l-2.3,2.3zM107.5,288.8l2.3,-2.3l2.3,2.3l-2.3,2.3zM115.3,290.6l2.3,-2.3l2.3,2.3l-2.3,2.3zM122.6,292.6l2.3,-2.3l2.3,2.3l-2.3,2.3zM130.9,295.4l2.3,-2.3l2.3,2.3l-2.3,2.3zM137.9,300.4l2.3,-2.3l2.3,2.3l-2.3,2.3zM144.1,307.4l2.3,-2.3l2.3,2.3l-2.3,2.3zM150.9,319.3l2.3,-2.3l2.3,2.3l-2.3,2.3zM156.9,333.5l2.3,-2.3l2.3,2.3l-2.3,2.3zM163.3,349.4l2.3,-2.3l2.3,2.3l-2.3,2.3zM169.7,357.8l2.3,-2.3l2.3,2.3l-2.3,2.3zM176.2,368.28l2.3,-2.3l2.3,2.3l-2.3,2.3zM182.7,376.58l2.3,-2.3l2.3,2.3l-2.3,2.3zM189.2,383.14l2.3,-2.3l2.3,2.3l-2.3,2.3zM195.7,388.47l2.3,-2.3l2.3,2.3l-2.3,2.3zM202.2,392.86l2.3,-2.3l2.3,2.3l-2.3,2.3zM208.7,396.52l2.3,-2.3l2.3,2.3l-2.3,2.3zM214.7,399.33l2.3,-2.3l2.3,2.3l-2.3,2.3zM220.7,401.68l2.3,-2.3l2.3,2.3l-2.3,2.3z" stroke="#7878f4" stroke-width="0.9" fill="none"/>
<path d="M59.5,310.4l2.3,-2.3l2.3,2.3l-2.3,2.3zM67.7,312.6l2.3,-2.3l2.3,2.3l-2.3,2.3zM76,314.4l2.3,-2.3l2.3,2.3l-2.3,2.3zM84.2,315.9l2.3,-2.3l2.3,2.3l-2.3,2.3zM92.1,317.3l2.3,-2.3l2.3,2.3l-2.3,2.3zM100.1,319.5l2.3,-2.3l2.3,2.3l-2.3,2.3zM107.5,321.7l2.3,-2.3l2.3,2.3l-2.3,2.3zM115.3,323.2l2.3,-2.3l2.3,2.3l-2.3,2.3zM122.6,325.5l2.3,-2.3l2.3,2.3l-2.3,2.3zM130.9,329l2.3,-2.3l2.3,2.3l-2.3,2.3zM137.9,333.3l2.3,-2.3l2.3,2.3l-2.3,2.3zM144.5,337.9l2.3,-2.3l2.3,2.3l-2.3,2.3zM150.9,343l2.3,-2.3l2.3,2.3l-2.3,2.3zM156.9,348.2l2.3,-2.3l2.3,2.3l-2.3,2.3zM162.7,353.5l2.3,-2.3l2.3,2.3l-2.3,2.3zM169.7,361.77l2.3,-2.3l2.3,2.3l-2.3,2.3zM176.2,368.02l2.3,-2.3l2.3,2.3l-2.3,2.3zM182.7,374.36l2.3,-2.3l2.3,2.3l-2.3,2.3zM189.2,380.6l2.3,-2.3l2.3,2.3l-2.3,2.3zM195.7,386.57l2.3,-2.3l2.3,2.3l-2.3,2.3zM202.2,392.12l2.3,-2.3l2.3,2.3l-2.3,2.3zM208.7,397.15l2.3,-2.3l2.3,2.3l-2.3,2.3zM214.7,401.28l2.3,-2.3l2.3,2.3l-2.3,2.3zM220.7,404.87l2.3,-2.3l2.3,2.3l-2.3,2.3z" stroke="#f47a7a" stroke-width="0.9" fill="none"/>
<path d="M59.9,310.16 L60.77,310.22 L61.63,310.28 L62.5,310.34 L63.37,310.41 L64.23,310.48 L65.09,310.56 L65.95,310.64 L66.81,310.73 L67.67,310.82 L68.52,310.91 L69.38,311.01 L70.23,311.12 L71.08,311.22 L71.93,311.34 L72.78,311.45 L73.62,311.57 L74.47,311.7 L75.31,311.83 L76.15,311.96 L76.99,312.1 L77.83,312.24 L78.66,312.39 L79.5,312.54 L80.33,312.69 L81.16,312.85 L81.99,313.02 L82.82,313.18 L83.65,313.35 L84.47,313.53 L85.29,313.71 L86.11,313.89 L86.93,314.08 L87.75,314.27 L88.57,314.47 L89.38,314.67 L90.19,314.87 L91.01,315.08 L91.81,315.29 L92.62,315.51 L93.43,315.73 L94.23,315.95 L95.04,316.18 L95.84,316.41 L96.64,316.64 L97.43,316.88 L98.23,317.13 L99.02,317.37 L99.81,317.63 L100.6,317.88 L101.39,318.14 L102.18,318.4 L102.97,318.67 L103.75,318.94 L104.53,319.21 L105.31,319.49 L106.09,319.77 L106.87,320.06 L107.64,320.35 L108.41,320.64 L109.19,320.93 L109.96,321.23 L110.72,321.54 L111.49,321.85 L112.25,322.16 L113.02,322.47 L113.78,322.79 L114.54,323.11 L115.29,323.44 L116.05,323.77 L116.8,324.1 L117.55,324.44 L118.3,324.78 L119.05,325.12 L119.8,325.47 L120.54,325.82 L121.28,326.17 L122.03,326.53 L122.76,326.89 L123.5,327.25 L124.24,327.62 L124.97,327.99 L125.7,328.37 L126.43,328.75 L127.16,329.13 L127.89,329.51 L128.61,329.9 L129.33,330.29 L130.06,330.69 L130.77,331.09 L131.49,331.49 L132.21,331.89 L132.92,332.3 L133.63,332.71 L134.34,333.13 L135.05,333.55 L135.75,333.97 L136.46,334.39 L137.16,334.82 L137.86,335.25 L138.56,335.69 L139.26,336.13 L139.95,336.57 L140.64,337.01 L141.33,337.46 L142.02,337.91 L142.71,338.36 L143.4,338.82 L144.08,339.28 L144.76,339.74 L145.44,340.21 L146.12,340.68 L146.79,341.15 L147.47,341.62 L148.14,342.1 L148.81,342.58 L149.48,343.07 L150.14,343.55 L150.81,344.04 L151.47,344.54 L152.13,345.03 L152.79,345.53 L153.44,346.03 L154.1,346.54 L154.75,347.04 L155.4,347.55 L156.05,348.07 L156.69,348.58 L157.34,349.1 L157.98,349.62 L158.62,350.15 L159.26,350.68 L159.9,351.21 L160.53,351.74 L161.16,352.28 L161.79,352.81 L162.42,353.36 L163.05,353.9 L163.68,354.45 L164.3,354.99 L164.92,355.55 L165.54,356.1 L166.16,356.66 L166.77,357.21 L167.39,357.77 L168,358.33 L168.62,358.9 L169.23,359.46 L169.84,360.03 L170.44,360.6 L171.05,361.17 L171.66,361.74 L172.26,362.32 L172.87,362.89 L173.47,363.47 L174.07,364.04 L174.68,364.62 L175.28,365.2 L175.88,365.78 L176.48,366.36 L177.08,366.94 L177.68,367.52 L178.27,368.1 L178.87,368.68 L179.47,369.27 L180.07,369.85 L180.67,370.43 L181.26,371.02 L181.86,371.6 L182.46,372.18 L183.05,372.76 L183.65,373.35 L184.25,373.93 L184.85,374.51 L185.45,375.09 L186.04,375.67 L186.64,376.25 L187.24,376.83 L187.84,377.41 L188.44,377.99 L189.04,378.56 L189.65,379.14 L190.25,379.71 L190.85,380.29 L191.46,380.86 L192.06,381.43 L192.67,382 L193.28,382.56 L193.89,383.13 L194.5,383.69 L195.11,384.25 L195.72,384.81 L196.33,385.37 L196.95,385.93 L197.56,386.48 L198.18,387.03 L198.8,387.58 L199.42,388.12 L200.05,388.67 L200.67,389.21 L201.3,389.74 L201.93,390.28 L202.56,390.81 L203.19,391.34 L203.83,391.87 L204.46,392.39 L205.1,392.91 L205.75,393.43 L206.39,393.94 L207.04,394.45 L207.68,394.95 L208.34,395.46 L208.99,395.95 L209.65,396.45 L210.3,396.94 L210.97,397.43 L211.63,397.91 L212.3,398.39 L212.97,398.86 L213.64,399.33 L214.32,399.8 L215,400.26 L215.68,400.71 L216.37,401.17 L217.06,401.61 L217.75,402.05 L218.45,402.49 L219.15,402.92 L219.85,403.35 L220.55,403.77 L221.26,404.19 L221.98,404.6 L222.7,405 L223.42,405.4 L224.14,405.8 L224.87,406.19 L225.61,406.57 L226.34,406.95 L227.08,407.32 L227.83,407.68" stroke="#e0242e" stroke-width="1.5" fill="none" stroke-linejoin="round" stroke-linecap="round"/>
<path d="M60.23,278.09 L61.07,278.34 L61.92,278.58 L62.78,278.82 L63.65,279.04 L64.52,279.26 L65.4,279.47 L66.29,279.68 L67.18,279.88 L68.07,280.07 L68.97,280.25 L69.88,280.43 L70.79,280.6 L71.71,280.77 L72.62,280.93 L73.55,281.09 L74.48,281.24 L75.41,281.39 L76.34,281.53 L77.28,281.67 L78.22,281.81 L79.16,281.95 L80.11,282.08 L81.06,282.21 L82.01,282.34 L82.96,282.47 L83.91,282.6 L84.86,282.72 L85.82,282.85 L86.78,282.97 L87.73,283.1 L88.69,283.22 L89.65,283.35 L90.61,283.48 L91.57,283.61 L92.52,283.74 L93.48,283.87 L94.44,284.01 L95.39,284.15 L96.34,284.29 L97.29,284.43 L98.24,284.58 L99.19,284.73 L100.14,284.89 L101.08,285.05 L102.02,285.22 L102.96,285.39 L103.89,285.57 L104.82,285.75 L105.75,285.94 L106.67,286.14 L107.59,286.34 L108.51,286.56 L109.42,286.77 L110.32,287 L111.23,287.24 L112.12,287.48 L113.01,287.73 L113.9,287.99 L114.77,288.27 L115.65,288.55 L116.51,288.84 L117.37,289.14 L118.23,289.45 L119.07,289.78 L119.91,290.11 L120.74,290.46 L121.57,290.82 L122.38,291.19 L123.19,291.58 L123.99,291.98 L124.78,292.39 L125.56,292.81 L126.33,293.25 L127.1,293.7 L127.86,294.16 L128.61,294.64 L129.35,295.13 L130.08,295.63 L130.8,296.14 L131.52,296.66 L132.23,297.2 L132.93,297.75 L133.63,298.3 L134.31,298.87 L134.99,299.45 L135.67,300.04 L136.33,300.64 L136.99,301.25 L137.64,301.87 L138.28,302.49 L138.92,303.13 L139.55,303.78 L140.18,304.43 L140.79,305.1 L141.4,305.77 L142.01,306.45 L142.6,307.14 L143.2,307.84 L143.78,308.55 L144.36,309.26 L144.93,309.98 L145.5,310.7 L146.06,311.44 L146.62,312.18 L147.17,312.93 L147.71,313.68 L148.25,314.44 L148.78,315.2 L149.31,315.97 L149.84,316.75 L150.35,317.53 L150.87,318.32 L151.37,319.11 L151.88,319.91 L152.37,320.71 L152.87,321.51 L153.36,322.32 L153.84,323.13 L154.32,323.95 L154.8,324.77 L155.27,325.59 L155.73,326.41 L156.2,327.24 L156.66,328.07 L157.11,328.91 L157.57,329.74 L158.02,330.58 L158.46,331.42 L158.91,332.26 L159.35,333.1 L159.79,333.95 L160.23,334.8 L160.66,335.64 L161.1,336.49 L161.53,337.34 L161.96,338.19 L162.39,339.04 L162.82,339.89 L163.25,340.74 L163.68,341.59 L164.11,342.44 L164.54,343.3 L164.97,344.15 L165.4,344.99 L165.83,345.84 L166.26,346.69 L166.69,347.54 L167.12,348.38 L167.56,349.23 L167.99,350.07 L168.43,350.91 L168.87,351.75 L169.31,352.58 L169.76,353.41 L170.2,354.25 L170.65,355.07 L171.11,355.9 L171.56,356.72 L172.02,357.54 L172.48,358.36 L172.95,359.17 L173.42,359.98 L173.9,360.78 L174.38,361.58 L174.86,362.38 L175.35,363.17 L175.84,363.96 L176.34,364.74 L176.85,365.52 L177.36,366.3 L177.87,367.06 L178.39,367.83 L178.92,368.58 L179.46,369.34 L180,370.08 L180.55,370.82 L181.1,371.56 L181.66,372.28 L182.23,373 L182.81,373.72 L183.4,374.43 L183.99,375.13 L184.59,375.82 L185.2,376.51 L185.81,377.19 L186.44,377.86 L187.07,378.53 L187.7,379.19 L188.35,379.84 L189,380.49 L189.66,381.12 L190.32,381.76 L191,382.38 L191.68,383 L192.36,383.61 L193.06,384.21 L193.76,384.81 L194.47,385.4 L195.18,385.98 L195.9,386.56 L196.63,387.13 L197.36,387.69 L198.1,388.24 L198.85,388.79 L199.6,389.33 L200.36,389.86 L201.13,390.39 L201.9,390.9 L202.68,391.41 L203.46,391.92 L204.25,392.41 L205.05,392.9 L205.85,393.38 L206.66,393.86 L207.48,394.32 L208.3,394.78 L209.12,395.23 L209.95,395.68 L210.79,396.11 L211.63,396.54 L212.48,396.96 L213.34,397.37 L214.2,397.78 L215.06,398.18 L215.93,398.57 L216.81,398.95 L217.69,399.33 L218.58,399.69 L219.47,400.05 L220.37,400.41 L221.27,400.75 L222.17,401.09 L223.09,401.42 L224,401.74 L224.92,402.05 L225.85,402.35 L226.78,402.65 L227.72,402.94 L228.66,403.22" stroke="#1f1fc8" stroke-width="1.7" fill="none" stroke-linejoin="round" stroke-linecap="round"/>
</g>
<g clip-path="url(#cl2)">
<path d="M65.2,499.35l2.3,-2.3l2.3,2.3l-2.3,2.3zM73.6,500.4l2.3,-2.3l2.3,2.3l-2.3,2.3zM81.8,502.68l2.3,-2.3l2.3,2.3l-2.3,2.3zM89.79,505.4l2.3,-2.3l2.3,2.3l-2.3,2.3zM97.6,507.75l2.3,-2.3l2.3,2.3l-2.3,2.3zM105.21,509.74l2.3,-2.3l2.3,2.3l-2.3,2.3zM112.64,511.58l2.3,-2.3l2.3,2.3l-2.3,2.3zM119.88,513.42l2.3,-2.3l2.3,2.3l-2.3,2.3zM126.95,515.35l2.3,-2.3l2.3,2.3l-2.3,2.3zM133.85,517.39l2.3,-2.3l2.3,2.3l-2.3,2.3zM140.59,519.58l2.3,-2.3l2.3,2.3l-2.3,2.3zM147.15,521.96l2.3,-2.3l2.3,2.3l-2.3,2.3zM153.56,524.56l2.3,-2.3l2.3,2.3l-2.3,2.3zM159.82,527.42l2.3,-2.3l2.3,2.3l-2.3,2.3zM165.92,530.56l2.3,-2.3l2.3,2.3l-2.3,2.3zM171.87,534l2.3,-2.3l2.3,2.3l-2.3,2.3zM177.68,537.69l2.3,-2.3l2.3,2.3l-2.3,2.3zM183.34,541.59l2.3,-2.3l2.3,2.3l-2.3,2.3zM188.87,545.66l2.3,-2.3l2.3,2.3l-2.3,2.3zM194.27,549.88l2.3,-2.3l2.3,2.3l-2.3,2.3zM199.53,554.27l2.3,-2.3l2.3,2.3l-2.3,2.3zM204.67,559.12l2.3,-2.3l2.3,2.3l-2.3,2.3zM209.68,565.02l2.3,-2.3l2.3,2.3l-2.3,2.3zM214.57,573.72l2.3,-2.3l2.3,2.3l-2.3,2.3zM219.34,591.22l2.3,-2.3l2.3,2.3l-2.3,2.3zM223.99,647.75l2.3,-2.3l2.3,2.3l-2.3,2.3z" stroke="#7878f4" stroke-width="0.9" fill="none"/>
<path d="M65.2,507.64l2.3,-2.3l2.3,2.3l-2.3,2.3zM73.6,510.32l2.3,-2.3l2.3,2.3l-2.3,2.3zM81.8,512.88l2.3,-2.3l2.3,2.3l-2.3,2.3zM89.79,515.38l2.3,-2.3l2.3,2.3l-2.3,2.3zM97.6,517.85l2.3,-2.3l2.3,2.3l-2.3,2.3zM105.21,520.33l2.3,-2.3l2.3,2.3l-2.3,2.3zM112.64,522.85l2.3,-2.3l2.3,2.3l-2.3,2.3zM119.88,525.44l2.3,-2.3l2.3,2.3l-2.3,2.3zM126.95,528.12l2.3,-2.3l2.3,2.3l-2.3,2.3zM133.85,530.91l2.3,-2.3l2.3,2.3l-2.3,2.3zM140.59,533.84l2.3,-2.3l2.3,2.3l-2.3,2.3zM147.15,536.92l2.3,-2.3l2.3,2.3l-2.3,2.3zM153.56,540.19l2.3,-2.3l2.3,2.3l-2.3,2.3zM159.82,543.66l2.3,-2.3l2.3,2.3l-2.3,2.3zM165.92,547.36l2.3,-2.3l2.3,2.3l-2.3,2.3zM171.87,551.33l2.3,-2.3l2.3,2.3l-2.3,2.3zM177.68,555.6l2.3,-2.3l2.3,2.3l-2.3,2.3zM183.34,560.26l2.3,-2.3l2.3,2.3l-2.3,2.3zM188.87,565.39l2.3,-2.3l2.3,2.3l-2.3,2.3zM194.27,571.13l2.3,-2.3l2.3,2.3l-2.3,2.3zM199.53,577.73l2.3,-2.3l2.3,2.3l-2.3,2.3zM204.67,585.65l2.3,-2.3l2.3,2.3l-2.3,2.3zM209.68,595.98l2.3,-2.3l2.3,2.3l-2.3,2.3zM214.57,610.29l2.3,-2.3l2.3,2.3l-2.3,2.3zM219.34,625.82l2.3,-2.3l2.3,2.3l-2.3,2.3zM223.99,639.1l2.3,-2.3l2.3,2.3l-2.3,2.3z" stroke="#f47a7a" stroke-width="0.9" fill="none"/>
<path d="M60.53,505.35 L61.45,505.66 L62.38,505.97 L63.3,506.27 L64.23,506.58 L65.15,506.88 L66.08,507.18 L67.01,507.48 L67.94,507.78 L68.87,508.08 L69.8,508.38 L70.73,508.68 L71.66,508.98 L72.6,509.27 L73.53,509.57 L74.47,509.87 L75.4,510.16 L76.34,510.46 L77.28,510.75 L78.22,511.05 L79.15,511.34 L80.09,511.63 L81.03,511.93 L81.97,512.22 L82.91,512.51 L83.85,512.81 L84.79,513.1 L85.74,513.39 L86.68,513.69 L87.62,513.98 L88.56,514.28 L89.51,514.57 L90.45,514.86 L91.39,515.16 L92.33,515.46 L93.28,515.75 L94.22,516.05 L95.16,516.35 L96.11,516.65 L97.05,516.95 L97.99,517.25 L98.94,517.55 L99.88,517.85 L100.82,518.15 L101.76,518.45 L102.7,518.76 L103.65,519.07 L104.59,519.37 L105.53,519.68 L106.47,519.99 L107.41,520.3 L108.35,520.62 L109.29,520.93 L110.23,521.24 L111.17,521.56 L112.11,521.88 L113.04,522.2 L113.98,522.52 L114.91,522.85 L115.85,523.17 L116.78,523.5 L117.72,523.83 L118.65,524.16 L119.58,524.5 L120.51,524.83 L121.45,525.17 L122.37,525.51 L123.3,525.85 L124.23,526.2 L125.16,526.55 L126.08,526.9 L127.01,527.25 L127.93,527.6 L128.85,527.96 L129.77,528.32 L130.69,528.68 L131.61,529.05 L132.53,529.42 L133.44,529.79 L134.36,530.16 L135.27,530.54 L136.18,530.92 L137.09,531.3 L138,531.69 L138.91,532.08 L139.81,532.47 L140.72,532.87 L141.62,533.27 L142.52,533.67 L143.42,534.08 L144.32,534.49 L145.21,534.9 L146.11,535.32 L147,535.74 L147.89,536.16 L148.78,536.59 L149.66,537.02 L150.55,537.46 L151.43,537.9 L152.31,538.35 L153.19,538.79 L154.06,539.25 L154.94,539.7 L155.81,540.16 L156.68,540.63 L157.55,541.1 L158.41,541.57 L159.28,542.05 L160.14,542.53 L161,543.02 L161.85,543.51 L162.71,544.01 L163.56,544.51 L164.41,545.01 L165.25,545.52 L166.1,546.04 L166.94,546.56 L167.78,547.09 L168.61,547.62 L169.44,548.15 L170.27,548.69 L171.1,549.24 L171.92,549.79 L172.74,550.34 L173.56,550.9 L174.37,551.47 L175.18,552.04 L175.98,552.61 L176.78,553.19 L177.57,553.78 L178.36,554.37 L179.15,554.97 L179.93,555.57 L180.71,556.18 L181.48,556.79 L182.25,557.41 L183.01,558.03 L183.77,558.66 L184.52,559.3 L185.27,559.94 L186.01,560.58 L186.75,561.23 L187.48,561.89 L188.2,562.55 L188.92,563.22 L189.63,563.89 L190.34,564.57 L191.04,565.25 L191.73,565.94 L192.42,566.64 L193.1,567.34 L193.78,568.05 L194.44,568.76 L195.1,569.48 L195.76,570.21 L196.4,570.94 L197.04,571.67 L197.67,572.42 L198.3,573.17 L198.91,573.92 L199.52,574.68 L200.12,575.45 L200.71,576.22 L201.3,577 L201.87,577.79 L202.44,578.58 L203,579.38 L203.55,580.18 L204.1,580.99 L204.63,581.81 L205.15,582.63 L205.67,583.46 L206.18,584.29 L206.67,585.14 L207.16,585.98 L207.64,586.84 L208.11,587.7 L208.57,588.57 L209.02,589.44 L209.46,590.32 L209.89,591.21 L210.31,592.1 L210.71,593 L211.11,593.91 L211.5,594.82 L211.88,595.74 L212.25,596.67 L212.62,597.6 L212.97,598.53 L213.32,599.47 L213.66,600.41 L214,601.36 L214.32,602.31 L214.65,603.26 L214.96,604.22 L215.28,605.18 L215.58,606.14 L215.89,607.1 L216.19,608.07 L216.49,609.03 L216.78,610 L217.07,610.97 L217.36,611.94 L217.65,612.9 L217.94,613.87 L218.23,614.84 L218.51,615.8 L218.8,616.77 L219.09,617.73 L219.38,618.69 L219.67,619.65 L219.97,620.61 L220.26,621.56 L220.56,622.51 L220.86,623.46 L221.17,624.41 L221.48,625.34 L221.79,626.28 L222.11,627.21 L222.43,628.14 L222.76,629.06 L223.08,629.98 L223.41,630.9 L223.73,631.82 L224.06,632.74 L224.39,633.65 L224.71,634.57 L225.04,635.48 L225.36,636.39 L225.68,637.31 L225.99,638.22 L226.31,639.14 L226.61,640.05 L226.91,640.97 L227.21,641.89 L227.5,642.81 L227.78,643.73 L228.06,644.66 L228.33,645.59 L228.59,646.53" stroke="#e0242e" stroke-width="1.5" fill="none" stroke-linejoin="round" stroke-linecap="round"/>
<path d="M60.35,499.47 L61.54,499.39 L62.72,499.34 L63.89,499.3 L65.06,499.29 L66.23,499.31 L67.39,499.35 L68.55,499.41 L69.7,499.5 L70.85,499.61 L71.99,499.74 L73.12,499.9 L74.25,500.09 L75.38,500.29 L76.5,500.53 L77.61,500.79 L78.72,501.07 L79.83,501.37 L80.93,501.69 L82.02,502.02 L83.12,502.36 L84.21,502.72 L85.3,503.09 L86.39,503.46 L87.47,503.83 L88.56,504.21 L89.65,504.58 L90.74,504.95 L91.83,505.32 L92.92,505.67 L94.01,506.02 L95.11,506.36 L96.21,506.69 L97.31,507.02 L98.41,507.33 L99.51,507.64 L100.62,507.95 L101.72,508.25 L102.83,508.54 L103.94,508.83 L105.05,509.12 L106.16,509.4 L107.28,509.68 L108.39,509.96 L109.5,510.24 L110.62,510.51 L111.73,510.79 L112.85,511.06 L113.96,511.34 L115.08,511.61 L116.19,511.89 L117.31,512.17 L118.42,512.45 L119.54,512.74 L120.65,513.02 L121.76,513.31 L122.88,513.61 L123.99,513.9 L125.1,514.2 L126.21,514.5 L127.32,514.81 L128.43,515.11 L129.54,515.43 L130.64,515.74 L131.75,516.06 L132.85,516.39 L133.95,516.72 L135.06,517.05 L136.15,517.39 L137.25,517.73 L138.35,518.08 L139.44,518.43 L140.53,518.79 L141.62,519.15 L142.71,519.52 L143.8,519.89 L144.88,520.27 L145.96,520.66 L147.04,521.05 L148.11,521.45 L149.19,521.86 L150.26,522.27 L151.32,522.69 L152.39,523.11 L153.45,523.54 L154.51,523.98 L155.56,524.43 L156.61,524.88 L157.66,525.35 L158.71,525.82 L159.75,526.29 L160.79,526.78 L161.82,527.27 L162.85,527.78 L163.88,528.29 L164.9,528.81 L165.92,529.33 L166.94,529.87 L167.95,530.42 L168.95,530.97 L169.96,531.53 L170.96,532.1 L171.95,532.68 L172.94,533.26 L173.93,533.85 L174.92,534.45 L175.9,535.06 L176.87,535.67 L177.85,536.3 L178.82,536.92 L179.78,537.56 L180.75,538.2 L181.71,538.84 L182.66,539.5 L183.62,540.16 L184.56,540.82 L185.51,541.49 L186.45,542.17 L187.39,542.85 L188.33,543.53 L189.26,544.23 L190.19,544.92 L191.12,545.62 L192.04,546.33 L192.96,547.04 L193.88,547.75 L194.8,548.47 L195.71,549.2 L196.62,549.92 L197.52,550.65 L198.42,551.39 L199.32,552.13 L200.21,552.87 L201.09,553.63 L201.96,554.39 L202.83,555.15 L203.68,555.93 L204.52,556.71 L205.35,557.51 L206.17,558.31 L206.97,559.12 L207.76,559.95 L208.52,560.79 L209.28,561.63 L210.01,562.5 L210.72,563.37 L211.41,564.26 L212.08,565.17 L212.73,566.09 L213.36,567.02 L213.95,567.97 L214.53,568.94 L215.07,569.93 L215.59,570.93 L216.09,571.95 L216.56,572.99 L217,574.04 L217.43,575.1 L217.83,576.17 L218.22,577.26 L218.58,578.36 L218.92,579.46 L219.25,580.58 L219.56,581.7 L219.86,582.83 L220.14,583.96 L220.4,585.1 L220.66,586.25 L220.9,587.39 L221.13,588.54 L221.36,589.69 L221.57,590.84 L221.78,591.99 L221.98,593.14 L222.17,594.28 L222.35,595.43 L222.53,596.57 L222.7,597.72 L222.87,598.86 L223.03,600 L223.18,601.15 L223.33,602.29 L223.47,603.43 L223.6,604.57 L223.73,605.71 L223.86,606.85 L223.98,607.99 L224.1,609.13 L224.21,610.27 L224.31,611.4 L224.41,612.54 L224.51,613.68 L224.6,614.82 L224.69,615.96 L224.78,617.1 L224.86,618.25 L224.94,619.39 L225.01,620.53 L225.09,621.67 L225.15,622.82 L225.22,623.96 L225.28,625.11 L225.35,626.25 L225.4,627.4 L225.46,628.55 L225.52,629.7 L225.57,630.85 L225.62,632 L225.67,633.15 L225.72,634.3 L225.77,635.45 L225.82,636.6 L225.87,637.76 L225.92,638.91 L225.96,640.06 L226.01,641.22 L226.06,642.37 L226.11,643.52 L226.16,644.68 L226.21,645.83 L226.26,646.98 L226.31,648.14 L226.36,649.29 L226.42,650.44 L226.48,651.59 L226.54,652.74 L226.6,653.9 L226.66,655.05 L226.73,656.2 L226.8,657.35 L226.87,658.5 L226.95,659.64 L227.03,660.79 L227.11,661.94 L227.2,663.08 L227.29,664.23 L227.39,665.37 L227.49,666.51 L227.59,667.65 L227.7,668.79" stroke="#1f1fc8" stroke-width="1.7" fill="none" stroke-linejoin="round" stroke-linecap="round"/>
</g>
<g clip-path="url(#cr0)">
<path d="M301.63,192.41 L302.98,192.39 L304.32,192.38 L305.66,192.36 L306.99,192.34 L308.33,192.33 L309.66,192.31 L311,192.29 L312.33,192.27 L313.66,192.25 L314.98,192.23 L316.31,192.21 L317.64,192.19 L318.96,192.17 L320.29,192.15 L321.61,192.12 L322.93,192.1 L324.25,192.08 L325.57,192.06 L326.89,192.04 L328.21,192.01 L329.53,191.99 L330.85,191.97 L332.17,191.95 L333.49,191.92 L334.81,191.9 L336.13,191.88 L337.45,191.86 L338.77,191.83 L340.09,191.81 L341.41,191.79 L342.73,191.77 L344.06,191.75 L345.38,191.73 L346.71,191.71 L348.03,191.69 L349.36,191.67 L350.69,191.65 L352.02,191.63 L353.35,191.62 L354.68,191.6 L356.02,191.58 L357.36,191.57 L358.69,191.55 L360.03,191.54 L361.38,191.52 L362.72,191.51 L364.06,191.49 L365.41,191.47 L366.76,191.45 L368.1,191.42 L369.45,191.39 L370.8,191.36 L372.15,191.32 L373.5,191.28 L374.84,191.24 L376.19,191.18 L377.54,191.12 L378.89,191.06 L380.23,190.99 L381.58,190.91 L382.93,190.82 L384.27,190.72 L385.61,190.61 L386.95,190.5 L388.29,190.37 L389.63,190.23 L390.97,190.09 L392.3,189.93 L393.63,189.76 L394.96,189.57 L396.29,189.37 L397.61,189.16 L398.93,188.94 L400.25,188.7 L401.57,188.44 L402.88,188.18 L404.19,187.89 L405.49,187.59 L406.79,187.27 L408.09,186.93 L409.37,186.58 L410.66,186.21 L411.93,185.82 L413.2,185.42 L414.46,184.99 L415.71,184.55 L416.95,184.08 L418.19,183.6 L419.41,183.1 L420.62,182.58 L421.82,182.03 L423,181.47 L424.18,180.89 L425.34,180.28 L426.49,179.65 L427.62,179 L428.74,178.33 L429.84,177.64 L430.92,176.92 L431.99,176.18 L433.05,175.41 L434.08,174.62 L435.1,173.81 L436.1,172.98 L437.08,172.13 L438.04,171.26 L438.99,170.36 L439.91,169.45 L440.82,168.52 L441.71,167.57 L442.58,166.6 L443.44,165.62 L444.27,164.61 L445.08,163.6 L445.88,162.56 L446.65,161.51 L447.4,160.45 L448.14,159.37 L448.86,158.28 L449.56,157.17 L450.24,156.05 L450.9,154.92 L451.54,153.77 L452.17,152.61 L452.79,151.45 L453.38,150.27 L453.96,149.07 L454.53,147.87 L455.07,146.66 L455.61,145.44 L456.13,144.21 L456.64,142.97 L457.13,141.72 L457.61,140.47 L458.07,139.2 L458.53,137.93 L458.97,136.66 L459.4,135.37 L459.81,134.08 L460.22,132.79 L460.61,131.48 L461,130.18 L461.37,128.87 L461.74,127.55 L462.09,126.23 L462.44,124.91 L462.78,123.59 L463.11,122.26 L463.43,120.93 L463.74,119.6 L464.05,118.27 L464.35,116.93 L464.64,115.6 L464.93,114.27 L465.21,112.93 L465.48,111.6 L465.75,110.27 L466.02,108.94 L466.28,107.61 L466.53,106.28 L466.78,104.95 L467.03,103.63 L467.27,102.31 L467.51,100.99 L467.75,99.66 L467.98,98.35 L468.2,97.03 L468.42,95.71 L468.64,94.39 L468.86,93.08 L469.07,91.77 L469.27,90.45 L469.48,89.14 L469.67,87.83 L469.87,86.52 L470.06,85.21 L470.25,83.9 L470.44,82.59 L470.62,81.28 L470.8,79.98 L470.97,78.67 L471.14,77.36 L471.31,76.06 L471.48,74.75 L471.64,73.45 L471.8,72.14 L471.96,70.84 L472.11,69.53 L472.26,68.23 L472.41,66.92 L472.56,65.62 L472.7,64.31 L472.85,63.01 L472.99,61.7 L473.12,60.4 L473.26,59.09 L473.39,57.79 L473.52,56.48 L473.65,55.17 L473.78,53.87 L473.9,52.56 L474.02,51.25 L474.15,49.94 L474.26,48.63 L474.38,47.32 L474.5,46.01 L474.61,44.7 L474.73,43.38 L474.84,42.07 L474.95,40.76 L475.06,39.44 L475.17,38.12 L475.27,36.8 L475.38,35.49 L475.48,34.17 L475.59,32.84 L475.69,31.52 L475.79,30.2 L475.89,28.87 L475.99,27.54 L476.09,26.21 L476.19,24.88 L476.29,23.55 L476.39,22.22 L476.49,20.88 L476.58,19.54 L476.68,18.21 L476.78,16.86 L476.88,15.52 L476.97,14.18 L477.07,12.83 L477.17,11.48 L477.26,10.13 L477.36,8.77 L477.46,7.42 L477.56,6.06 L477.66,4.7 L477.75,3.34 L477.85,1.97" stroke="#e0242e" stroke-width="1.4" fill="none" stroke-linejoin="round" stroke-linecap="round"/>
<path d="M301.6,194.5 L316.5,194.4 L321,192.6 L354,192.4 L362,190.4 L370,189 L379.8,187.8 L391.1,186.6 L402.5,187 L415.5,187 L423.7,188.6 L431.8,190.2 L436.7,190.2 L441.5,186.1 L445.5,177 L448.5,170 L452.7,152.1 L455.2,140.3 L457.7,122.6 L459.4,110 L461.8,94.8 L465.3,63.9 L469.5,56.9 L472.3,68.1 L477.2,96.9 L481.4,95.5 L483.8,80.7" stroke="#1f1fc8" stroke-width="1.5" fill="none" stroke-linejoin="round" stroke-linecap="round"/>
</g>
<g clip-path="url(#cr1)">
<path d="M301.61,434.79 L302.42,434.69 L303.23,434.59 L304.04,434.49 L304.86,434.39 L305.67,434.3 L306.48,434.2 L307.3,434.11 L308.11,434.02 L308.93,433.93 L309.75,433.84 L310.56,433.75 L311.38,433.66 L312.2,433.58 L313.02,433.49 L313.84,433.41 L314.66,433.32 L315.48,433.24 L316.3,433.16 L317.12,433.07 L317.94,432.99 L318.76,432.91 L319.59,432.83 L320.41,432.75 L321.23,432.67 L322.05,432.59 L322.88,432.51 L323.7,432.42 L324.52,432.34 L325.35,432.26 L326.17,432.18 L326.99,432.1 L327.82,432.02 L328.64,431.93 L329.47,431.85 L330.29,431.77 L331.11,431.68 L331.94,431.6 L332.76,431.51 L333.58,431.43 L334.41,431.34 L335.23,431.25 L336.05,431.16 L336.88,431.07 L337.7,430.98 L338.52,430.88 L339.34,430.79 L340.16,430.69 L340.99,430.59 L341.81,430.49 L342.63,430.39 L343.45,430.29 L344.27,430.18 L345.09,430.08 L345.91,429.97 L346.73,429.86 L347.54,429.75 L348.36,429.63 L349.18,429.51 L349.99,429.39 L350.81,429.27 L351.62,429.15 L352.44,429.02 L353.25,428.89 L354.07,428.76 L354.88,428.63 L355.69,428.49 L356.5,428.35 L357.31,428.21 L358.12,428.06 L358.93,427.91 L359.73,427.76 L360.54,427.6 L361.35,427.44 L362.15,427.28 L362.95,427.12 L363.76,426.95 L364.56,426.77 L365.36,426.6 L366.16,426.42 L366.96,426.23 L367.75,426.05 L368.55,425.86 L369.35,425.66 L370.14,425.47 L370.93,425.27 L371.73,425.06 L372.52,424.85 L373.31,424.64 L374.1,424.43 L374.89,424.21 L375.68,423.99 L376.46,423.77 L377.25,423.55 L378.04,423.32 L378.82,423.09 L379.6,422.85 L380.39,422.62 L381.17,422.38 L381.95,422.14 L382.73,421.89 L383.51,421.64 L384.29,421.39 L385.07,421.14 L385.85,420.89 L386.63,420.63 L387.41,420.37 L388.18,420.11 L388.96,419.85 L389.74,419.58 L390.51,419.32 L391.29,419.05 L392.06,418.78 L392.83,418.5 L393.61,418.23 L394.38,417.95 L395.15,417.68 L395.93,417.4 L396.7,417.11 L397.47,416.83 L398.24,416.55 L399.01,416.26 L399.78,415.97 L400.55,415.68 L401.32,415.39 L402.09,415.1 L402.86,414.81 L403.63,414.52 L404.4,414.22 L405.17,413.93 L405.93,413.63 L406.7,413.33 L407.47,413.03 L408.24,412.73 L409.01,412.43 L409.78,412.13 L410.54,411.83 L411.31,411.53 L412.08,411.22 L412.85,410.92 L413.61,410.62 L414.38,410.31 L415.15,410.01 L415.92,409.7 L416.69,409.4 L417.45,409.09 L418.22,408.79 L418.99,408.48 L419.76,408.17 L420.53,407.87 L421.3,407.56 L422.06,407.26 L422.83,406.95 L423.6,406.65 L424.37,406.34 L425.14,406.03 L425.91,405.73 L426.68,405.43 L427.45,405.12 L428.22,404.82 L429,404.52 L429.77,404.21 L430.54,403.91 L431.31,403.61 L432.09,403.31 L432.86,403.01 L433.63,402.72 L434.41,402.42 L435.18,402.12 L435.96,401.83 L436.73,401.53 L437.51,401.24 L438.29,400.95 L439.06,400.66 L439.84,400.37 L440.62,400.08 L441.4,399.79 L442.18,399.51 L442.96,399.22 L443.74,398.94 L444.52,398.65 L445.3,398.37 L446.07,398.08 L446.85,397.79 L447.63,397.51 L448.4,397.22 L449.18,396.93 L449.95,396.63 L450.72,396.34 L451.49,396.04 L452.26,395.74 L453.02,395.44 L453.79,395.13 L454.55,394.83 L455.3,394.51 L456.06,394.19 L456.81,393.87 L457.56,393.55 L458.31,393.22 L459.05,392.88 L459.79,392.54 L460.52,392.19 L461.25,391.84 L461.97,391.48 L462.7,391.11 L463.41,390.74 L464.12,390.36 L464.83,389.97 L465.53,389.57 L466.23,389.17 L466.92,388.76 L467.61,388.34 L468.29,387.91 L468.96,387.47 L469.63,387.03 L470.29,386.57 L470.94,386.1 L471.59,385.63 L472.23,385.14 L472.86,384.64 L473.49,384.14 L474.11,383.62 L474.72,383.09 L475.33,382.54 L475.92,381.99 L476.51,381.42 L477.09,380.84 L477.66,380.25 L478.22,379.64 L478.78,379.02 L479.32,378.39 L479.86,377.75 L480.38,377.09 L480.9,376.41 L481.41,375.72 L481.9,375.02 L482.39,374.3 L482.87,373.56 L483.33,372.81 L483.79,372.04" stroke="#e0242e" stroke-width="1.4" fill="none" stroke-linejoin="round" stroke-linecap="round"/>
<path d="M301.76,433.3 L302.6,433.36 L303.45,433.43 L304.3,433.5 L305.15,433.57 L306.02,433.64 L306.88,433.71 L307.75,433.79 L308.63,433.86 L309.51,433.94 L310.39,434.02 L311.28,434.09 L312.17,434.17 L313.07,434.25 L313.97,434.33 L314.87,434.41 L315.78,434.48 L316.68,434.56 L317.6,434.64 L318.51,434.71 L319.43,434.78 L320.35,434.86 L321.27,434.92 L322.19,434.99 L323.12,435.06 L324.05,435.12 L324.98,435.18 L325.91,435.23 L326.84,435.29 L327.77,435.34 L328.71,435.38 L329.64,435.43 L330.58,435.46 L331.51,435.5 L332.45,435.53 L333.39,435.55 L334.32,435.57 L335.26,435.58 L336.19,435.59 L337.13,435.59 L338.06,435.59 L339,435.58 L339.93,435.57 L340.86,435.54 L341.79,435.51 L342.72,435.48 L343.65,435.43 L344.58,435.38 L345.5,435.32 L346.42,435.26 L347.34,435.18 L348.26,435.1 L349.17,435.01 L350.09,434.91 L350.99,434.8 L351.9,434.68 L352.8,434.55 L353.7,434.41 L354.6,434.26 L355.49,434.11 L356.38,433.94 L357.26,433.76 L358.14,433.57 L359.02,433.37 L359.89,433.15 L360.75,432.93 L361.62,432.69 L362.47,432.45 L363.32,432.19 L364.17,431.91 L365.01,431.63 L365.84,431.33 L366.67,431.02 L367.5,430.7 L368.31,430.36 L369.12,430.01 L369.93,429.64 L370.73,429.26 L371.52,428.87 L372.3,428.46 L373.08,428.04 L373.85,427.6 L374.61,427.15 L375.36,426.68 L376.11,426.19 L376.85,425.69 L377.58,425.17 L378.3,424.64 L379.02,424.09 L379.72,423.52 L380.42,422.94 L381.11,422.34 L381.79,421.73 L382.46,421.1 L383.13,420.45 L383.78,419.8 L384.43,419.13 L385.07,418.45 L385.71,417.77 L386.34,417.07 L386.96,416.36 L387.58,415.65 L388.19,414.93 L388.79,414.21 L389.39,413.48 L389.98,412.74 L390.57,412 L391.15,411.26 L391.73,410.52 L392.3,409.78 L392.87,409.04 L393.43,408.3 L394,407.56 L394.55,406.82 L395.1,406.09 L395.65,405.36 L396.2,404.64 L396.74,403.92 L397.29,403.21 L397.83,402.5 L398.37,401.8 L398.91,401.1 L399.46,400.41 L400,399.72 L400.55,399.03 L401.11,398.35 L401.66,397.67 L402.23,396.99 L402.8,396.31 L403.38,395.64 L403.97,394.97 L404.56,394.3 L405.17,393.63 L405.79,392.96 L406.41,392.29 L407.06,391.62 L407.71,390.95 L408.38,390.29 L409.06,389.62 L409.76,388.95 L410.48,388.29 L411.21,387.64 L411.95,387.01 L412.71,386.41 L413.47,385.85 L414.25,385.34 L415.03,384.88 L415.82,384.48 L416.62,384.16 L417.42,383.91 L418.22,383.76 L419.03,383.7 L419.84,383.74 L420.65,383.9 L421.46,384.17 L422.27,384.55 L423.07,385.01 L423.87,385.53 L424.65,386.11 L425.42,386.72 L426.17,387.34 L426.91,387.96 L427.63,388.58 L428.34,389.18 L429.03,389.79 L429.71,390.39 L430.38,390.98 L431.05,391.58 L431.71,392.17 L432.36,392.77 L433.02,393.37 L433.68,393.98 L434.34,394.59 L435,395.21 L435.68,395.84 L436.36,396.47 L437.05,397.1 L437.75,397.72 L438.46,398.33 L439.18,398.93 L439.91,399.51 L440.65,400.06 L441.41,400.59 L442.19,401.08 L442.97,401.54 L443.78,401.96 L444.6,402.33 L445.44,402.64 L446.3,402.91 L447.17,403.12 L448.05,403.26 L448.94,403.35 L449.84,403.38 L450.73,403.34 L451.62,403.24 L452.5,403.07 L453.37,402.83 L454.23,402.53 L455.06,402.15 L455.87,401.7 L456.65,401.18 L457.41,400.6 L458.16,399.99 L458.89,399.38 L459.64,398.79 L460.39,398.25 L461.16,397.78 L461.96,397.41 L462.79,397.14 L463.65,396.96 L464.52,396.86 L465.42,396.83 L466.32,396.87 L467.24,396.95 L468.17,397.07 L469.09,397.22 L470.02,397.39 L470.94,397.56 L471.84,397.7 L472.72,397.8 L473.56,397.8 L474.34,397.7 L475.07,397.46 L475.75,397.09 L476.38,396.62 L476.97,396.05 L477.52,395.4 L478.05,394.68 L478.54,393.89 L479.02,393.06 L479.48,392.2 L479.92,391.31 L480.37,390.42 L480.81,389.53 L481.26,388.65 L481.72,387.81 L482.19,387 L482.69,386.25 L483.21,385.57 L483.76,384.97" stroke="#1f1fc8" stroke-width="1.5" fill="none" stroke-linejoin="round" stroke-linecap="round"/>
</g>
<g clip-path="url(#cr2)">
<path d="M301.58,674.19 L302.96,674.1 L304.35,674.02 L305.73,673.94 L307.1,673.87 L308.48,673.8 L309.85,673.73 L311.22,673.67 L312.59,673.61 L313.96,673.55 L315.32,673.49 L316.68,673.44 L318.04,673.39 L319.4,673.34 L320.76,673.3 L322.12,673.25 L323.47,673.21 L324.82,673.17 L326.17,673.14 L327.52,673.1 L328.87,673.06 L330.22,673.03 L331.56,673 L332.91,672.97 L334.25,672.94 L335.6,672.91 L336.94,672.88 L338.28,672.85 L339.62,672.82 L340.96,672.8 L342.3,672.77 L343.64,672.74 L344.98,672.72 L346.31,672.69 L347.65,672.66 L348.99,672.63 L350.33,672.6 L351.66,672.57 L353,672.54 L354.34,672.51 L355.68,672.48 L357.01,672.45 L358.35,672.41 L359.69,672.37 L361.03,672.33 L362.37,672.29 L363.71,672.25 L365.05,672.21 L366.39,672.16 L367.73,672.11 L369.08,672.06 L370.42,672.01 L371.76,671.95 L373.11,671.89 L374.46,671.83 L375.81,671.76 L377.16,671.69 L378.51,671.62 L379.86,671.55 L381.21,671.47 L382.57,671.38 L383.93,671.3 L385.29,671.21 L386.65,671.11 L388.01,671.01 L389.37,670.91 L390.74,670.8 L392.11,670.69 L393.48,670.57 L394.85,670.44 L396.23,670.32 L397.61,670.18 L398.99,670.05 L400.37,669.9 L401.75,669.75 L403.14,669.59 L404.53,669.43 L405.91,669.25 L407.3,669.07 L408.68,668.87 L410.06,668.66 L411.44,668.44 L412.81,668.2 L414.18,667.94 L415.54,667.67 L416.9,667.38 L418.24,667.08 L419.58,666.75 L420.91,666.4 L422.23,666.02 L423.54,665.63 L424.83,665.21 L426.11,664.76 L427.38,664.29 L428.63,663.79 L429.86,663.26 L431.07,662.69 L432.26,662.1 L433.43,661.48 L434.58,660.83 L435.71,660.14 L436.81,659.43 L437.9,658.69 L438.97,657.92 L440.02,657.13 L441.04,656.31 L442.05,655.47 L443.04,654.6 L444,653.7 L444.95,652.79 L445.88,651.85 L446.79,650.88 L447.68,649.9 L448.55,648.9 L449.4,647.88 L450.23,646.84 L451.05,645.78 L451.84,644.7 L452.62,643.61 L453.37,642.5 L454.11,641.37 L454.83,640.24 L455.54,639.08 L456.22,637.92 L456.89,636.74 L457.54,635.55 L458.17,634.34 L458.78,633.13 L459.37,631.91 L459.95,630.68 L460.51,629.44 L461.05,628.19 L461.58,626.94 L462.09,625.68 L462.58,624.41 L463.06,623.14 L463.52,621.87 L463.96,620.59 L464.39,619.3 L464.8,618.01 L465.2,616.71 L465.59,615.41 L465.96,614.11 L466.31,612.8 L466.66,611.49 L466.99,610.17 L467.31,608.86 L467.62,607.53 L467.92,606.21 L468.21,604.88 L468.48,603.54 L468.75,602.21 L469.01,600.87 L469.26,599.53 L469.49,598.19 L469.73,596.84 L469.95,595.5 L470.16,594.15 L470.37,592.8 L470.57,591.44 L470.77,590.09 L470.96,588.73 L471.14,587.38 L471.32,586.02 L471.49,584.66 L471.66,583.3 L471.83,581.94 L471.99,580.58 L472.15,579.22 L472.3,577.86 L472.46,576.5 L472.61,575.15 L472.76,573.79 L472.91,572.43 L473.06,571.07 L473.21,569.71 L473.36,568.36 L473.51,567 L473.66,565.65 L473.81,564.3 L473.96,562.95 L474.11,561.6 L474.27,560.25 L474.42,558.9 L474.58,557.56 L474.73,556.21 L474.89,554.87 L475.04,553.53 L475.2,552.18 L475.35,550.84 L475.51,549.5 L475.67,548.16 L475.82,546.82 L475.98,545.48 L476.13,544.14 L476.29,542.81 L476.44,541.47 L476.6,540.13 L476.75,538.79 L476.9,537.46 L477.06,536.12 L477.21,534.78 L477.36,533.44 L477.5,532.11 L477.65,530.77 L477.8,529.43 L477.94,528.1 L478.09,526.76 L478.23,525.42 L478.37,524.08 L478.51,522.74 L478.65,521.4 L478.78,520.06 L478.92,518.72 L479.05,517.38 L479.18,516.04 L479.31,514.69 L479.43,513.35 L479.55,512 L479.67,510.66 L479.79,509.31 L479.91,507.96 L480.02,506.61 L480.13,505.26 L480.24,503.91 L480.34,502.56 L480.44,501.2 L480.54,499.85 L480.64,498.49 L480.73,497.13 L480.82,495.77 L480.9,494.41 L480.98,493.04 L481.06,491.68 L481.13,490.31 L481.21,488.94 L481.27,487.57 L481.33,486.19 L481.39,484.82 L481.45,483.44" stroke="#e0242e" stroke-width="1.4" fill="none" stroke-linejoin="round" stroke-linecap="round"/>
<path d="M301.61,677.08 L303.07,677.44 L304.52,677.7 L305.96,677.88 L307.4,677.99 L308.82,678.03 L310.23,678 L311.64,677.92 L313.04,677.78 L314.44,677.6 L315.82,677.37 L317.21,677.11 L318.58,676.82 L319.96,676.51 L321.33,676.18 L322.69,675.84 L324.06,675.5 L325.42,675.15 L326.78,674.81 L328.15,674.48 L329.51,674.17 L330.87,673.88 L332.23,673.63 L333.6,673.4 L334.97,673.22 L336.34,673.09 L337.71,673 L339.09,672.97 L340.47,672.99 L341.86,673.06 L343.25,673.16 L344.64,673.3 L346.03,673.46 L347.43,673.65 L348.82,673.87 L350.22,674.09 L351.63,674.33 L353.03,674.58 L354.43,674.82 L355.83,675.06 L357.24,675.3 L358.64,675.52 L360.05,675.72 L361.45,675.91 L362.85,676.06 L364.26,676.18 L365.66,676.27 L367.06,676.32 L368.45,676.33 L369.85,676.31 L371.25,676.25 L372.64,676.17 L374.03,676.05 L375.42,675.91 L376.81,675.74 L378.2,675.55 L379.58,675.34 L380.97,675.11 L382.35,674.86 L383.73,674.59 L385.11,674.31 L386.49,674.02 L387.86,673.72 L389.24,673.41 L390.61,673.09 L391.98,672.76 L393.35,672.44 L394.71,672.11 L396.08,671.8 L397.45,671.49 L398.81,671.19 L400.18,670.91 L401.55,670.65 L402.93,670.41 L404.3,670.21 L405.68,670.03 L407.06,669.88 L408.45,669.78 L409.84,669.71 L411.24,669.68 L412.64,669.68 L414.04,669.7 L415.45,669.73 L416.87,669.76 L418.28,669.8 L419.7,669.83 L421.12,669.85 L422.54,669.85 L423.96,669.82 L425.39,669.76 L426.82,669.66 L428.24,669.52 L429.67,669.34 L431.09,669.12 L432.5,668.86 L433.91,668.56 L435.31,668.23 L436.7,667.85 L438.07,667.44 L439.44,667 L440.78,666.52 L442.12,666 L443.43,665.44 L444.72,664.85 L445.99,664.22 L447.24,663.56 L448.46,662.87 L449.66,662.14 L450.82,661.38 L451.96,660.58 L453.07,659.76 L454.14,658.89 L455.18,658 L456.18,657.08 L457.14,656.12 L458.06,655.14 L458.94,654.12 L459.78,653.07 L460.58,651.99 L461.34,650.89 L462.05,649.76 L462.73,648.6 L463.38,647.42 L463.99,646.21 L464.56,644.98 L465.1,643.73 L465.62,642.46 L466.1,641.18 L466.55,639.87 L466.97,638.54 L467.37,637.2 L467.75,635.85 L468.1,634.48 L468.43,633.09 L468.73,631.7 L469.02,630.29 L469.29,628.88 L469.54,627.46 L469.78,626.03 L470,624.59 L470.21,623.15 L470.4,621.7 L470.59,620.25 L470.76,618.8 L470.93,617.35 L471.09,615.9 L471.24,614.45 L471.39,613 L471.54,611.56 L471.68,610.11 L471.81,608.67 L471.95,607.23 L472.08,605.8 L472.2,604.36 L472.32,602.93 L472.44,601.5 L472.56,600.08 L472.67,598.65 L472.77,597.23 L472.88,595.81 L472.98,594.39 L473.08,592.97 L473.17,591.56 L473.26,590.15 L473.35,588.73 L473.44,587.32 L473.52,585.91 L473.6,584.51 L473.68,583.1 L473.75,581.7 L473.83,580.29 L473.89,578.89 L473.96,577.49 L474.03,576.09 L474.09,574.69 L474.15,573.3 L474.21,571.9 L474.26,570.5 L474.32,569.11 L474.37,567.72 L474.42,566.32 L474.47,564.93 L474.51,563.54 L474.56,562.15 L474.6,560.76 L474.64,559.37 L474.68,557.98 L474.72,556.59 L474.76,555.2 L474.8,553.81 L474.83,552.42 L474.86,551.03 L474.9,549.64 L474.93,548.25 L474.96,546.86 L474.99,545.47 L475.02,544.08 L475.05,542.69 L475.08,541.3 L475.1,539.91 L475.13,538.52 L475.16,537.13 L475.18,535.74 L475.21,534.35 L475.23,532.95 L475.26,531.56 L475.28,530.17 L475.31,528.77 L475.34,527.37 L475.36,525.98 L475.39,524.58 L475.41,523.18 L475.44,521.78 L475.47,520.38 L475.49,518.97 L475.52,517.57 L475.55,516.16 L475.58,514.76 L475.61,513.35 L475.64,511.94 L475.67,510.53 L475.71,509.11 L475.74,507.7 L475.77,506.28 L475.81,504.86 L475.85,503.44 L475.89,502.02 L475.93,500.6 L475.97,499.17 L476.01,497.74 L476.06,496.31 L476.1,494.88 L476.15,493.44 L476.2,492 L476.25,490.56 L476.31,489.12 L476.36,487.68 L476.42,486.23 L476.48,484.78 L476.54,483.33" stroke="#1f1fc8" stroke-width="1.5" fill="none" stroke-linejoin="round" stroke-linecap="round"/>
<rect x="481.1" y="483.5" width="3.5" height="194.7" fill="#5a5ac4"/>
<path d="M483.8,671.71h-1.8M483.8,665.22h-1.8M483.8,658.73h-1.8M483.8,652.24h-1.8M483.8,645.75h-1.8M483.8,639.26h-1.8M483.8,632.77h-1.8M483.8,626.28h-1.8M483.8,619.79h-1.8M483.8,613.3h-1.8M483.8,606.81h-1.8M483.8,600.32h-1.8M483.8,593.83h-1.8M483.8,587.34h-1.8M483.8,580.85h-1.8M483.8,574.36h-1.8M483.8,567.87h-1.8M483.8,561.38h-1.8M483.8,554.89h-1.8M483.8,548.4h-1.8M483.8,541.91h-1.8M483.8,535.42h-1.8M483.8,528.93h-1.8M483.8,522.44h-1.8M483.8,515.95h-1.8M483.8,509.46h-1.8M483.8,502.97h-1.8M483.8,496.48h-1.8M483.8,489.99h-1.8" stroke="#1a1a70" stroke-width="1.1"/>
</g>
<text x="62" y="130.5" font-size="12.5" fill="#d91f2a" stroke="#d91f2a" stroke-width="0.2" text-anchor="start">Chang-Hinton Prediction</text>
<text x="62" y="148.4" font-size="12.5" fill="#1a1ad2" stroke="#1a1ad2" stroke-width="0.2" text-anchor="start">Measured</text>
<text x="62" y="167.2" font-size="12.5" fill="#000" stroke="#000" stroke-width="0.2" text-anchor="start">0.380000&lt; t [s] &lt;0.390000</text>
<text x="62" y="185.5" font-size="12.5" fill="#000" stroke="#000" stroke-width="0.2" text-anchor="start">141340</text>
<text x="62" y="371.7" font-size="12.5" fill="#d91f2a" stroke="#d91f2a" stroke-width="0.2" text-anchor="start">Chang-Hinton Prediction</text>
<text x="62" y="389.6" font-size="12.5" fill="#1a1ad2" stroke="#1a1ad2" stroke-width="0.2" text-anchor="start">Measured</text>
<text x="62" y="408.4" font-size="12.5" fill="#000" stroke="#000" stroke-width="0.2" text-anchor="start">0.550000&lt; t [s] &lt;0.560000</text>
<text x="62" y="426.7" font-size="12.5" fill="#000" stroke="#000" stroke-width="0.2" text-anchor="start">133841</text>
<text x="62" y="612.8" font-size="12.5" fill="#d91f2a" stroke="#d91f2a" stroke-width="0.2" text-anchor="start">Chang-Hinton Prediction</text>
<text x="62" y="630.7" font-size="12.5" fill="#1a1ad2" stroke="#1a1ad2" stroke-width="0.2" text-anchor="start">Measured</text>
<text x="62" y="649.5" font-size="12.5" fill="#000" stroke="#000" stroke-width="0.2" text-anchor="start">0.720000&lt; t [s] &lt;0.770000</text>
<text x="62" y="667.8" font-size="12.5" fill="#000" stroke="#000" stroke-width="0.2" text-anchor="start">134991</text>
<text x="303.2" y="39.7" font-size="12.55" fill="#d91f2a" stroke="#d91f2a" stroke-width="0.2" text-anchor="start">Chang-Hinton Prediction</text>
<text x="303.2" y="59" font-size="12.55" fill="#1a1ad2" stroke="#1a1ad2" stroke-width="0.2" text-anchor="start">Measured</text>
<text x="303.2" y="78.3" font-size="12.55" fill="#000" stroke="#000" stroke-width="0.2" text-anchor="start">0.380000&lt; t [s] &lt;0.390000</text>
<text x="303.2" y="97.4" font-size="12.55" fill="#000" stroke="#000" stroke-width="0.2" text-anchor="start">141340</text>
<text x="303.2" y="280.2" font-size="12.55" fill="#d91f2a" stroke="#d91f2a" stroke-width="0.2" text-anchor="start">Chang-Hinton Prediction</text>
<text x="303.2" y="299.5" font-size="12.55" fill="#1a1ad2" stroke="#1a1ad2" stroke-width="0.2" text-anchor="start">Measured</text>
<text x="303.2" y="318.8" font-size="12.55" fill="#000" stroke="#000" stroke-width="0.2" text-anchor="start">0.550000&lt; t [s] &lt;0.560000</text>
<text x="303.2" y="337.9" font-size="12.55" fill="#000" stroke="#000" stroke-width="0.2" text-anchor="start">133841</text>
<text x="303.2" y="521.5" font-size="12.55" fill="#d91f2a" stroke="#d91f2a" stroke-width="0.2" text-anchor="start">Chang-Hinton Prediction</text>
<text x="303.2" y="540.8" font-size="12.55" fill="#1a1ad2" stroke="#1a1ad2" stroke-width="0.2" text-anchor="start">Measured</text>
<text x="303.2" y="560.1" font-size="12.55" fill="#000" stroke="#000" stroke-width="0.2" text-anchor="start">0.720000&lt; t [s] &lt;0.770000</text>
<text x="303.2" y="579.2" font-size="12.55" fill="#000" stroke="#000" stroke-width="0.2" text-anchor="start">134991</text>
<text x="133.5" y="705.4" font-size="14" font-weight="normal">&#961;<tspan font-size="8.2" letter-spacing="0.4" font-weight="bold" stroke="#000" stroke-width="0.2" dy="3.3">pol</tspan></text>
<text x="383.6" y="707.6" font-size="11.2" font-weight="normal">&#961;<tspan font-size="7.2" letter-spacing="0.2" font-weight="bold" stroke="#000" stroke-width="0.15" dy="2.4">pol</tspan></text>
</svg>
</body></html>
